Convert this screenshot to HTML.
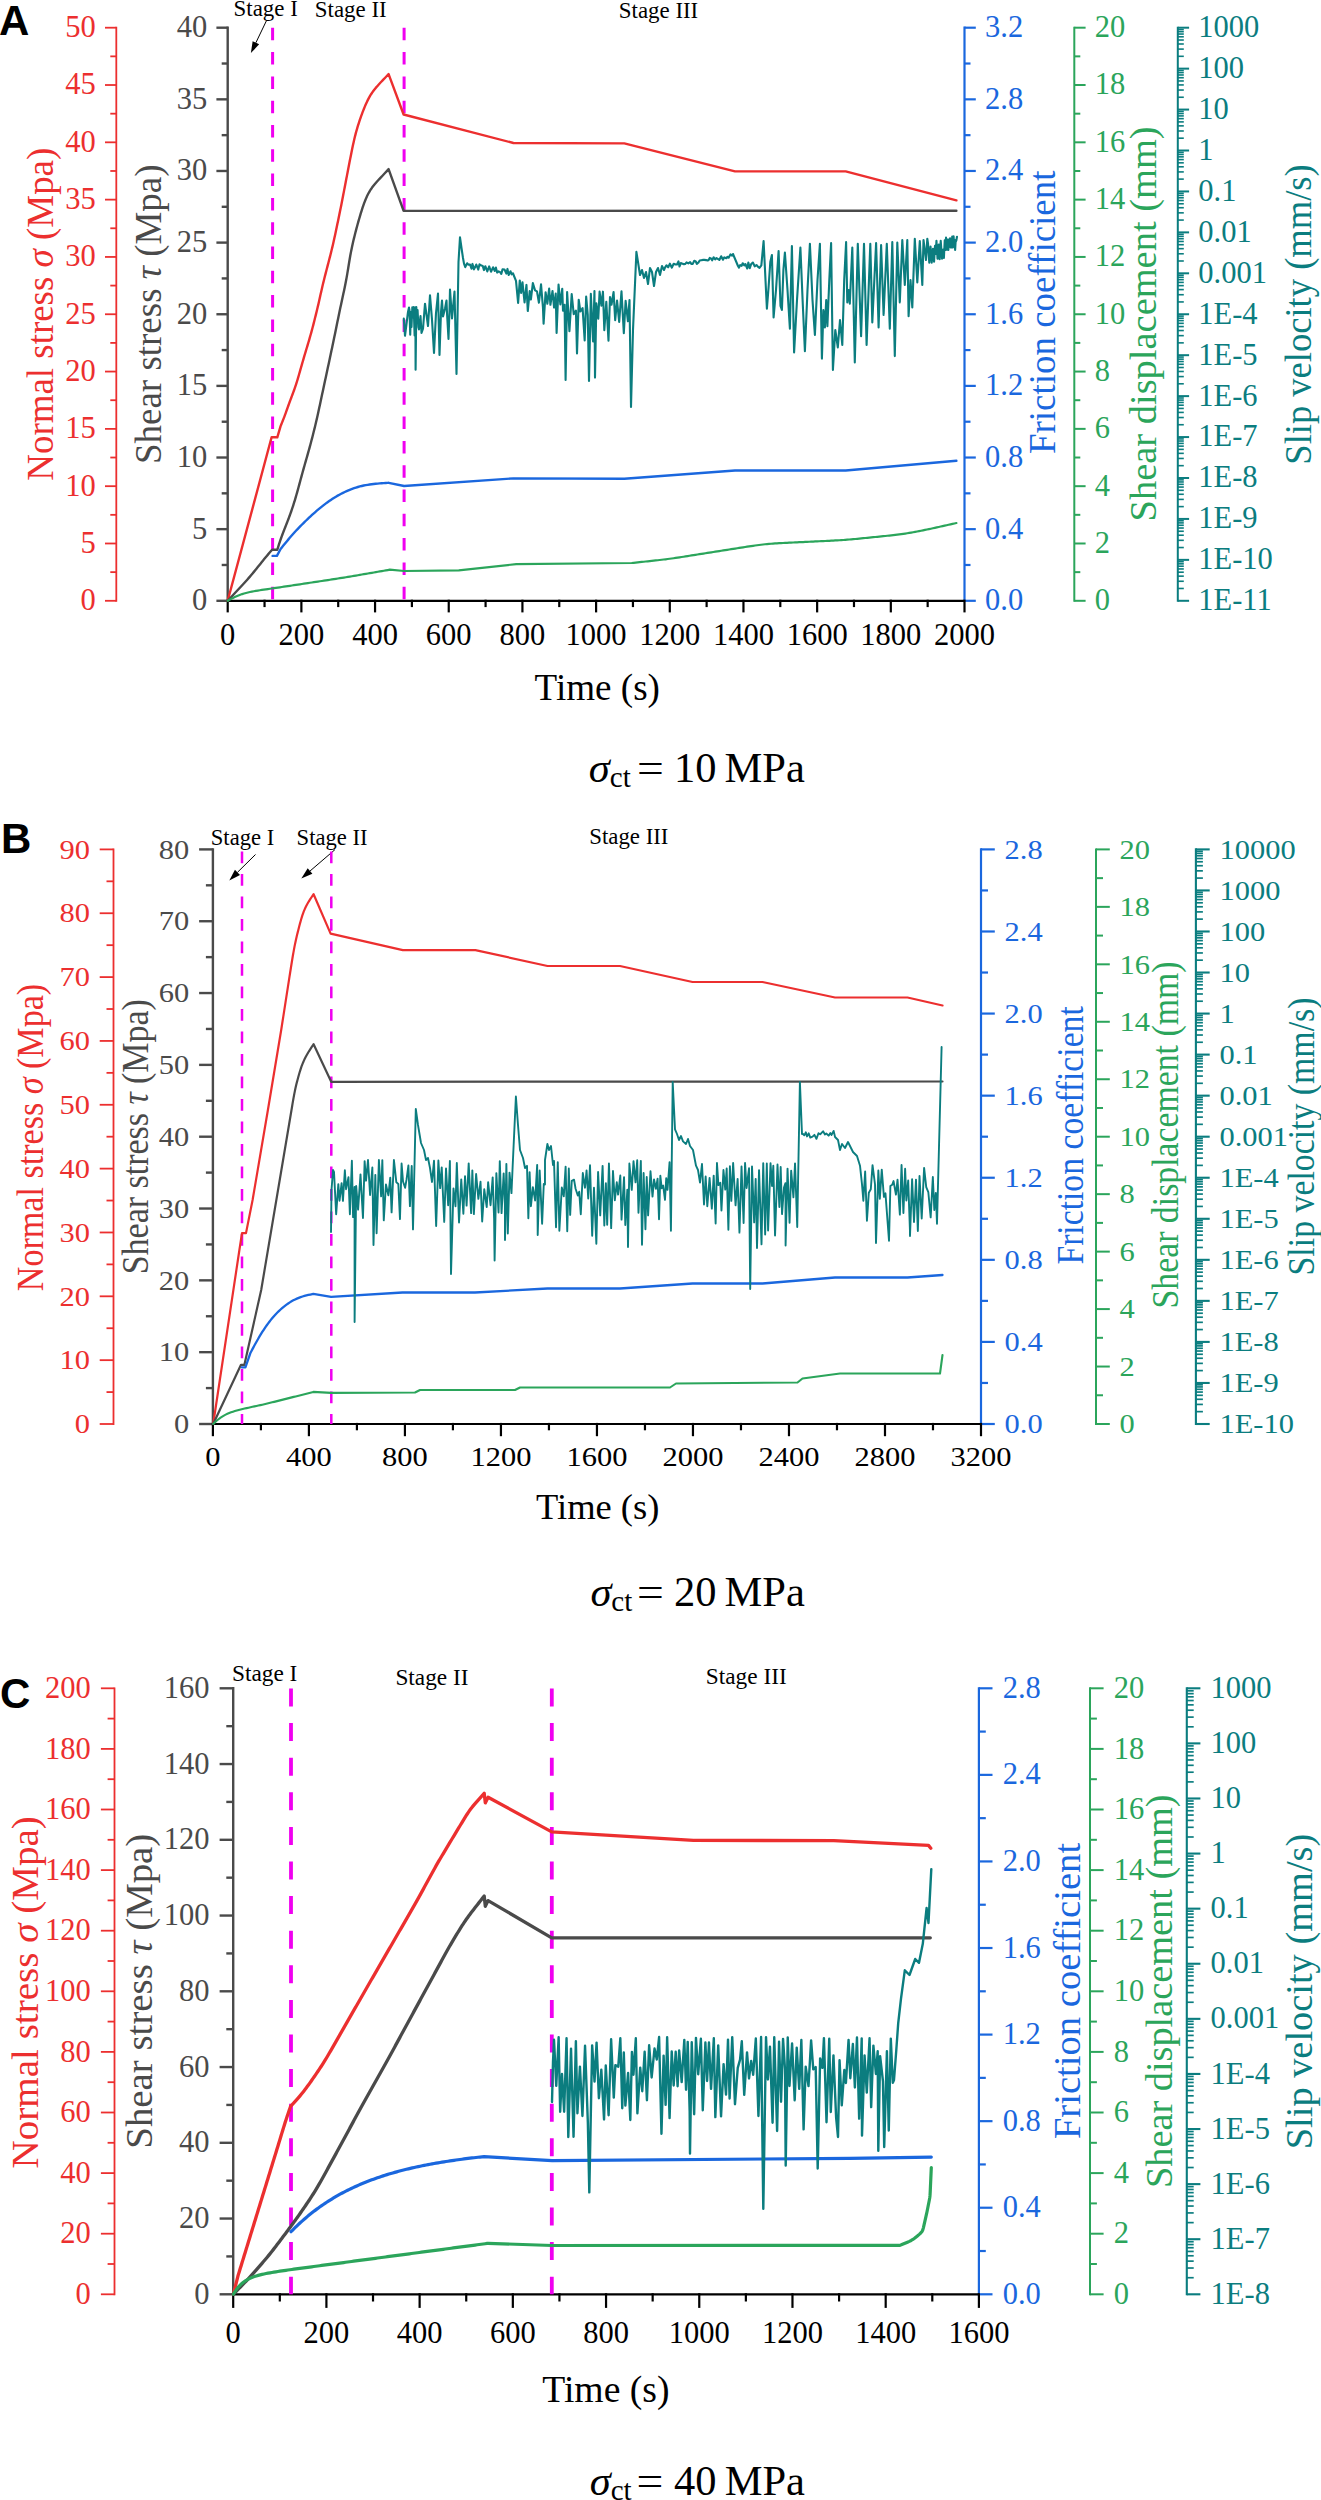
<!DOCTYPE html>
<html><head><meta charset="utf-8"><style>
html,body{margin:0;padding:0;background:#fff;}
svg{display:block;font-family:"Liberation Serif", serif;}
</style></head><body>
<svg width="1321" height="2500" viewBox="0 0 1321 2500">
<rect width="1321" height="2500" fill="#fff"/>
<text x="-1" y="34.7" fill="#000" font-size="42" font-family="Liberation Sans, sans-serif" font-weight="bold">A</text>
<line x1="116.3" y1="26.8" x2="116.3" y2="601.7" stroke="#EC2F2F" stroke-width="1.8" />
<line x1="105" y1="600.8" x2="116.3" y2="600.8" stroke="#EC2F2F" stroke-width="1.8" />
<text x="95.8" y="610.2" fill="#EC2F2F" font-size="30.5" text-anchor="end" >0</text>
<line x1="110.3" y1="572.14" x2="116.3" y2="572.14" stroke="#EC2F2F" stroke-width="1.8" />
<line x1="105" y1="543.49" x2="116.3" y2="543.49" stroke="#EC2F2F" stroke-width="1.8" />
<text x="95.8" y="552.89" fill="#EC2F2F" font-size="30.5" text-anchor="end" >5</text>
<line x1="110.3" y1="514.84" x2="116.3" y2="514.84" stroke="#EC2F2F" stroke-width="1.8" />
<line x1="105" y1="486.18" x2="116.3" y2="486.18" stroke="#EC2F2F" stroke-width="1.8" />
<text x="95.8" y="495.58" fill="#EC2F2F" font-size="30.5" text-anchor="end" >10</text>
<line x1="110.3" y1="457.52" x2="116.3" y2="457.52" stroke="#EC2F2F" stroke-width="1.8" />
<line x1="105" y1="428.87" x2="116.3" y2="428.87" stroke="#EC2F2F" stroke-width="1.8" />
<text x="95.8" y="438.27" fill="#EC2F2F" font-size="30.5" text-anchor="end" >15</text>
<line x1="110.3" y1="400.22" x2="116.3" y2="400.22" stroke="#EC2F2F" stroke-width="1.8" />
<line x1="105" y1="371.56" x2="116.3" y2="371.56" stroke="#EC2F2F" stroke-width="1.8" />
<text x="95.8" y="380.96" fill="#EC2F2F" font-size="30.5" text-anchor="end" >20</text>
<line x1="110.3" y1="342.9" x2="116.3" y2="342.9" stroke="#EC2F2F" stroke-width="1.8" />
<line x1="105" y1="314.25" x2="116.3" y2="314.25" stroke="#EC2F2F" stroke-width="1.8" />
<text x="95.8" y="323.65" fill="#EC2F2F" font-size="30.5" text-anchor="end" >25</text>
<line x1="110.3" y1="285.59" x2="116.3" y2="285.59" stroke="#EC2F2F" stroke-width="1.8" />
<line x1="105" y1="256.94" x2="116.3" y2="256.94" stroke="#EC2F2F" stroke-width="1.8" />
<text x="95.8" y="266.34" fill="#EC2F2F" font-size="30.5" text-anchor="end" >30</text>
<line x1="110.3" y1="228.29" x2="116.3" y2="228.29" stroke="#EC2F2F" stroke-width="1.8" />
<line x1="105" y1="199.63" x2="116.3" y2="199.63" stroke="#EC2F2F" stroke-width="1.8" />
<text x="95.8" y="209.03" fill="#EC2F2F" font-size="30.5" text-anchor="end" >35</text>
<line x1="110.3" y1="170.98" x2="116.3" y2="170.98" stroke="#EC2F2F" stroke-width="1.8" />
<line x1="105" y1="142.32" x2="116.3" y2="142.32" stroke="#EC2F2F" stroke-width="1.8" />
<text x="95.8" y="151.72" fill="#EC2F2F" font-size="30.5" text-anchor="end" >40</text>
<line x1="110.3" y1="113.67" x2="116.3" y2="113.67" stroke="#EC2F2F" stroke-width="1.8" />
<line x1="105" y1="85.01" x2="116.3" y2="85.01" stroke="#EC2F2F" stroke-width="1.8" />
<text x="95.8" y="94.41" fill="#EC2F2F" font-size="30.5" text-anchor="end" >45</text>
<line x1="110.3" y1="56.36" x2="116.3" y2="56.36" stroke="#EC2F2F" stroke-width="1.8" />
<line x1="105" y1="27.7" x2="116.3" y2="27.7" stroke="#EC2F2F" stroke-width="1.8" />
<text x="95.8" y="37.1" fill="#EC2F2F" font-size="30.5" text-anchor="end" >50</text>
<line x1="227.7" y1="26.5" x2="227.7" y2="602" stroke="#4A4A4A" stroke-width="2.4" />
<line x1="216.4" y1="600.8" x2="227.7" y2="600.8" stroke="#4A4A4A" stroke-width="2.4" />
<text x="207.2" y="610.2" fill="#4A4A4A" font-size="30.5" text-anchor="end" >0</text>
<line x1="221.7" y1="564.98" x2="227.7" y2="564.98" stroke="#4A4A4A" stroke-width="2.4" />
<line x1="216.4" y1="529.16" x2="227.7" y2="529.16" stroke="#4A4A4A" stroke-width="2.4" />
<text x="207.2" y="538.56" fill="#4A4A4A" font-size="30.5" text-anchor="end" >5</text>
<line x1="221.7" y1="493.34" x2="227.7" y2="493.34" stroke="#4A4A4A" stroke-width="2.4" />
<line x1="216.4" y1="457.52" x2="227.7" y2="457.52" stroke="#4A4A4A" stroke-width="2.4" />
<text x="207.2" y="466.92" fill="#4A4A4A" font-size="30.5" text-anchor="end" >10</text>
<line x1="221.7" y1="421.71" x2="227.7" y2="421.71" stroke="#4A4A4A" stroke-width="2.4" />
<line x1="216.4" y1="385.89" x2="227.7" y2="385.89" stroke="#4A4A4A" stroke-width="2.4" />
<text x="207.2" y="395.29" fill="#4A4A4A" font-size="30.5" text-anchor="end" >15</text>
<line x1="221.7" y1="350.07" x2="227.7" y2="350.07" stroke="#4A4A4A" stroke-width="2.4" />
<line x1="216.4" y1="314.25" x2="227.7" y2="314.25" stroke="#4A4A4A" stroke-width="2.4" />
<text x="207.2" y="323.65" fill="#4A4A4A" font-size="30.5" text-anchor="end" >20</text>
<line x1="221.7" y1="278.43" x2="227.7" y2="278.43" stroke="#4A4A4A" stroke-width="2.4" />
<line x1="216.4" y1="242.61" x2="227.7" y2="242.61" stroke="#4A4A4A" stroke-width="2.4" />
<text x="207.2" y="252.01" fill="#4A4A4A" font-size="30.5" text-anchor="end" >25</text>
<line x1="221.7" y1="206.79" x2="227.7" y2="206.79" stroke="#4A4A4A" stroke-width="2.4" />
<line x1="216.4" y1="170.98" x2="227.7" y2="170.98" stroke="#4A4A4A" stroke-width="2.4" />
<text x="207.2" y="180.38" fill="#4A4A4A" font-size="30.5" text-anchor="end" >30</text>
<line x1="221.7" y1="135.16" x2="227.7" y2="135.16" stroke="#4A4A4A" stroke-width="2.4" />
<line x1="216.4" y1="99.34" x2="227.7" y2="99.34" stroke="#4A4A4A" stroke-width="2.4" />
<text x="207.2" y="108.74" fill="#4A4A4A" font-size="30.5" text-anchor="end" >35</text>
<line x1="221.7" y1="63.52" x2="227.7" y2="63.52" stroke="#4A4A4A" stroke-width="2.4" />
<line x1="216.4" y1="27.7" x2="227.7" y2="27.7" stroke="#4A4A4A" stroke-width="2.4" />
<text x="207.2" y="37.1" fill="#4A4A4A" font-size="30.5" text-anchor="end" >40</text>
<line x1="964.5" y1="26.6" x2="964.5" y2="601.9" stroke="#1A67DE" stroke-width="2.2" />
<line x1="964.5" y1="600.8" x2="975.8" y2="600.8" stroke="#1A67DE" stroke-width="2.2" />
<text x="985" y="610.2" fill="#1A67DE" font-size="30.5" text-anchor="start" >0.0</text>
<line x1="964.5" y1="564.98" x2="970.5" y2="564.98" stroke="#1A67DE" stroke-width="2.2" />
<line x1="964.5" y1="529.16" x2="975.8" y2="529.16" stroke="#1A67DE" stroke-width="2.2" />
<text x="985" y="538.56" fill="#1A67DE" font-size="30.5" text-anchor="start" >0.4</text>
<line x1="964.5" y1="493.34" x2="970.5" y2="493.34" stroke="#1A67DE" stroke-width="2.2" />
<line x1="964.5" y1="457.52" x2="975.8" y2="457.52" stroke="#1A67DE" stroke-width="2.2" />
<text x="985" y="466.92" fill="#1A67DE" font-size="30.5" text-anchor="start" >0.8</text>
<line x1="964.5" y1="421.71" x2="970.5" y2="421.71" stroke="#1A67DE" stroke-width="2.2" />
<line x1="964.5" y1="385.89" x2="975.8" y2="385.89" stroke="#1A67DE" stroke-width="2.2" />
<text x="985" y="395.29" fill="#1A67DE" font-size="30.5" text-anchor="start" >1.2</text>
<line x1="964.5" y1="350.07" x2="970.5" y2="350.07" stroke="#1A67DE" stroke-width="2.2" />
<line x1="964.5" y1="314.25" x2="975.8" y2="314.25" stroke="#1A67DE" stroke-width="2.2" />
<text x="985" y="323.65" fill="#1A67DE" font-size="30.5" text-anchor="start" >1.6</text>
<line x1="964.5" y1="278.43" x2="970.5" y2="278.43" stroke="#1A67DE" stroke-width="2.2" />
<line x1="964.5" y1="242.61" x2="975.8" y2="242.61" stroke="#1A67DE" stroke-width="2.2" />
<text x="985" y="252.01" fill="#1A67DE" font-size="30.5" text-anchor="start" >2.0</text>
<line x1="964.5" y1="206.79" x2="970.5" y2="206.79" stroke="#1A67DE" stroke-width="2.2" />
<line x1="964.5" y1="170.97" x2="975.8" y2="170.97" stroke="#1A67DE" stroke-width="2.2" />
<text x="985" y="180.37" fill="#1A67DE" font-size="30.5" text-anchor="start" >2.4</text>
<line x1="964.5" y1="135.16" x2="970.5" y2="135.16" stroke="#1A67DE" stroke-width="2.2" />
<line x1="964.5" y1="99.34" x2="975.8" y2="99.34" stroke="#1A67DE" stroke-width="2.2" />
<text x="985" y="108.74" fill="#1A67DE" font-size="30.5" text-anchor="start" >2.8</text>
<line x1="964.5" y1="63.52" x2="970.5" y2="63.52" stroke="#1A67DE" stroke-width="2.2" />
<line x1="964.5" y1="27.7" x2="975.8" y2="27.7" stroke="#1A67DE" stroke-width="2.2" />
<text x="985" y="37.1" fill="#1A67DE" font-size="30.5" text-anchor="start" >3.2</text>
<line x1="1074.3" y1="26.7" x2="1074.3" y2="601.8" stroke="#2BA55B" stroke-width="2" />
<line x1="1074.3" y1="600.8" x2="1085.6" y2="600.8" stroke="#2BA55B" stroke-width="2" />
<text x="1094.8" y="610.2" fill="#2BA55B" font-size="30.5" text-anchor="start" >0</text>
<line x1="1074.3" y1="572.14" x2="1080.3" y2="572.14" stroke="#2BA55B" stroke-width="2" />
<line x1="1074.3" y1="543.49" x2="1085.6" y2="543.49" stroke="#2BA55B" stroke-width="2" />
<text x="1094.8" y="552.89" fill="#2BA55B" font-size="30.5" text-anchor="start" >2</text>
<line x1="1074.3" y1="514.83" x2="1080.3" y2="514.83" stroke="#2BA55B" stroke-width="2" />
<line x1="1074.3" y1="486.18" x2="1085.6" y2="486.18" stroke="#2BA55B" stroke-width="2" />
<text x="1094.8" y="495.58" fill="#2BA55B" font-size="30.5" text-anchor="start" >4</text>
<line x1="1074.3" y1="457.52" x2="1080.3" y2="457.52" stroke="#2BA55B" stroke-width="2" />
<line x1="1074.3" y1="428.87" x2="1085.6" y2="428.87" stroke="#2BA55B" stroke-width="2" />
<text x="1094.8" y="438.27" fill="#2BA55B" font-size="30.5" text-anchor="start" >6</text>
<line x1="1074.3" y1="400.21" x2="1080.3" y2="400.21" stroke="#2BA55B" stroke-width="2" />
<line x1="1074.3" y1="371.56" x2="1085.6" y2="371.56" stroke="#2BA55B" stroke-width="2" />
<text x="1094.8" y="380.96" fill="#2BA55B" font-size="30.5" text-anchor="start" >8</text>
<line x1="1074.3" y1="342.9" x2="1080.3" y2="342.9" stroke="#2BA55B" stroke-width="2" />
<line x1="1074.3" y1="314.25" x2="1085.6" y2="314.25" stroke="#2BA55B" stroke-width="2" />
<text x="1094.8" y="323.65" fill="#2BA55B" font-size="30.5" text-anchor="start" >10</text>
<line x1="1074.3" y1="285.6" x2="1080.3" y2="285.6" stroke="#2BA55B" stroke-width="2" />
<line x1="1074.3" y1="256.94" x2="1085.6" y2="256.94" stroke="#2BA55B" stroke-width="2" />
<text x="1094.8" y="266.34" fill="#2BA55B" font-size="30.5" text-anchor="start" >12</text>
<line x1="1074.3" y1="228.28" x2="1080.3" y2="228.28" stroke="#2BA55B" stroke-width="2" />
<line x1="1074.3" y1="199.63" x2="1085.6" y2="199.63" stroke="#2BA55B" stroke-width="2" />
<text x="1094.8" y="209.03" fill="#2BA55B" font-size="30.5" text-anchor="start" >14</text>
<line x1="1074.3" y1="170.98" x2="1080.3" y2="170.98" stroke="#2BA55B" stroke-width="2" />
<line x1="1074.3" y1="142.32" x2="1085.6" y2="142.32" stroke="#2BA55B" stroke-width="2" />
<text x="1094.8" y="151.72" fill="#2BA55B" font-size="30.5" text-anchor="start" >16</text>
<line x1="1074.3" y1="113.67" x2="1080.3" y2="113.67" stroke="#2BA55B" stroke-width="2" />
<line x1="1074.3" y1="85.01" x2="1085.6" y2="85.01" stroke="#2BA55B" stroke-width="2" />
<text x="1094.8" y="94.41" fill="#2BA55B" font-size="30.5" text-anchor="start" >18</text>
<line x1="1074.3" y1="56.36" x2="1080.3" y2="56.36" stroke="#2BA55B" stroke-width="2" />
<line x1="1074.3" y1="27.7" x2="1085.6" y2="27.7" stroke="#2BA55B" stroke-width="2" />
<text x="1094.8" y="37.1" fill="#2BA55B" font-size="30.5" text-anchor="start" >20</text>
<line x1="1177.8" y1="26.7" x2="1177.8" y2="601.8" stroke="#0B7D7F" stroke-width="2" />
<line x1="1177.8" y1="600.8" x2="1189.1" y2="600.8" stroke="#0B7D7F" stroke-width="2" />
<text x="1198.3" y="610.2" fill="#0B7D7F" font-size="30.5" text-anchor="start" >1E-11</text>
<line x1="1177.8" y1="588.48" x2="1183.8" y2="588.48" stroke="#0B7D7F" stroke-width="1.6" />
<line x1="1177.8" y1="581.27" x2="1183.8" y2="581.27" stroke="#0B7D7F" stroke-width="1.6" />
<line x1="1177.8" y1="576.15" x2="1183.8" y2="576.15" stroke="#0B7D7F" stroke-width="1.6" />
<line x1="1177.8" y1="572.19" x2="1183.8" y2="572.19" stroke="#0B7D7F" stroke-width="1.6" />
<line x1="1177.8" y1="568.95" x2="1183.8" y2="568.95" stroke="#0B7D7F" stroke-width="1.6" />
<line x1="1177.8" y1="566.21" x2="1183.8" y2="566.21" stroke="#0B7D7F" stroke-width="1.6" />
<line x1="1177.8" y1="563.83" x2="1183.8" y2="563.83" stroke="#0B7D7F" stroke-width="1.6" />
<line x1="1177.8" y1="561.74" x2="1183.8" y2="561.74" stroke="#0B7D7F" stroke-width="1.6" />
<line x1="1177.8" y1="559.86" x2="1189.1" y2="559.86" stroke="#0B7D7F" stroke-width="2" />
<text x="1198.3" y="569.26" fill="#0B7D7F" font-size="30.5" text-anchor="start" >1E-10</text>
<line x1="1177.8" y1="547.54" x2="1183.8" y2="547.54" stroke="#0B7D7F" stroke-width="1.6" />
<line x1="1177.8" y1="540.33" x2="1183.8" y2="540.33" stroke="#0B7D7F" stroke-width="1.6" />
<line x1="1177.8" y1="535.22" x2="1183.8" y2="535.22" stroke="#0B7D7F" stroke-width="1.6" />
<line x1="1177.8" y1="531.25" x2="1183.8" y2="531.25" stroke="#0B7D7F" stroke-width="1.6" />
<line x1="1177.8" y1="528.01" x2="1183.8" y2="528.01" stroke="#0B7D7F" stroke-width="1.6" />
<line x1="1177.8" y1="525.27" x2="1183.8" y2="525.27" stroke="#0B7D7F" stroke-width="1.6" />
<line x1="1177.8" y1="522.9" x2="1183.8" y2="522.9" stroke="#0B7D7F" stroke-width="1.6" />
<line x1="1177.8" y1="520.8" x2="1183.8" y2="520.8" stroke="#0B7D7F" stroke-width="1.6" />
<line x1="1177.8" y1="518.93" x2="1189.1" y2="518.93" stroke="#0B7D7F" stroke-width="2" />
<text x="1198.3" y="528.33" fill="#0B7D7F" font-size="30.5" text-anchor="start" >1E-9</text>
<line x1="1177.8" y1="506.61" x2="1183.8" y2="506.61" stroke="#0B7D7F" stroke-width="1.6" />
<line x1="1177.8" y1="499.4" x2="1183.8" y2="499.4" stroke="#0B7D7F" stroke-width="1.6" />
<line x1="1177.8" y1="494.28" x2="1183.8" y2="494.28" stroke="#0B7D7F" stroke-width="1.6" />
<line x1="1177.8" y1="490.32" x2="1183.8" y2="490.32" stroke="#0B7D7F" stroke-width="1.6" />
<line x1="1177.8" y1="487.07" x2="1183.8" y2="487.07" stroke="#0B7D7F" stroke-width="1.6" />
<line x1="1177.8" y1="484.33" x2="1183.8" y2="484.33" stroke="#0B7D7F" stroke-width="1.6" />
<line x1="1177.8" y1="481.96" x2="1183.8" y2="481.96" stroke="#0B7D7F" stroke-width="1.6" />
<line x1="1177.8" y1="479.87" x2="1183.8" y2="479.87" stroke="#0B7D7F" stroke-width="1.6" />
<line x1="1177.8" y1="477.99" x2="1189.1" y2="477.99" stroke="#0B7D7F" stroke-width="2" />
<text x="1198.3" y="487.39" fill="#0B7D7F" font-size="30.5" text-anchor="start" >1E-8</text>
<line x1="1177.8" y1="465.67" x2="1183.8" y2="465.67" stroke="#0B7D7F" stroke-width="1.6" />
<line x1="1177.8" y1="458.46" x2="1183.8" y2="458.46" stroke="#0B7D7F" stroke-width="1.6" />
<line x1="1177.8" y1="453.35" x2="1183.8" y2="453.35" stroke="#0B7D7F" stroke-width="1.6" />
<line x1="1177.8" y1="449.38" x2="1183.8" y2="449.38" stroke="#0B7D7F" stroke-width="1.6" />
<line x1="1177.8" y1="446.14" x2="1183.8" y2="446.14" stroke="#0B7D7F" stroke-width="1.6" />
<line x1="1177.8" y1="443.4" x2="1183.8" y2="443.4" stroke="#0B7D7F" stroke-width="1.6" />
<line x1="1177.8" y1="441.02" x2="1183.8" y2="441.02" stroke="#0B7D7F" stroke-width="1.6" />
<line x1="1177.8" y1="438.93" x2="1183.8" y2="438.93" stroke="#0B7D7F" stroke-width="1.6" />
<line x1="1177.8" y1="437.06" x2="1189.1" y2="437.06" stroke="#0B7D7F" stroke-width="2" />
<text x="1198.3" y="446.46" fill="#0B7D7F" font-size="30.5" text-anchor="start" >1E-7</text>
<line x1="1177.8" y1="424.73" x2="1183.8" y2="424.73" stroke="#0B7D7F" stroke-width="1.6" />
<line x1="1177.8" y1="417.53" x2="1183.8" y2="417.53" stroke="#0B7D7F" stroke-width="1.6" />
<line x1="1177.8" y1="412.41" x2="1183.8" y2="412.41" stroke="#0B7D7F" stroke-width="1.6" />
<line x1="1177.8" y1="408.44" x2="1183.8" y2="408.44" stroke="#0B7D7F" stroke-width="1.6" />
<line x1="1177.8" y1="405.2" x2="1183.8" y2="405.2" stroke="#0B7D7F" stroke-width="1.6" />
<line x1="1177.8" y1="402.46" x2="1183.8" y2="402.46" stroke="#0B7D7F" stroke-width="1.6" />
<line x1="1177.8" y1="400.09" x2="1183.8" y2="400.09" stroke="#0B7D7F" stroke-width="1.6" />
<line x1="1177.8" y1="397.99" x2="1183.8" y2="397.99" stroke="#0B7D7F" stroke-width="1.6" />
<line x1="1177.8" y1="396.12" x2="1189.1" y2="396.12" stroke="#0B7D7F" stroke-width="2" />
<text x="1198.3" y="405.52" fill="#0B7D7F" font-size="30.5" text-anchor="start" >1E-6</text>
<line x1="1177.8" y1="383.8" x2="1183.8" y2="383.8" stroke="#0B7D7F" stroke-width="1.6" />
<line x1="1177.8" y1="376.59" x2="1183.8" y2="376.59" stroke="#0B7D7F" stroke-width="1.6" />
<line x1="1177.8" y1="371.48" x2="1183.8" y2="371.48" stroke="#0B7D7F" stroke-width="1.6" />
<line x1="1177.8" y1="367.51" x2="1183.8" y2="367.51" stroke="#0B7D7F" stroke-width="1.6" />
<line x1="1177.8" y1="364.27" x2="1183.8" y2="364.27" stroke="#0B7D7F" stroke-width="1.6" />
<line x1="1177.8" y1="361.53" x2="1183.8" y2="361.53" stroke="#0B7D7F" stroke-width="1.6" />
<line x1="1177.8" y1="359.15" x2="1183.8" y2="359.15" stroke="#0B7D7F" stroke-width="1.6" />
<line x1="1177.8" y1="357.06" x2="1183.8" y2="357.06" stroke="#0B7D7F" stroke-width="1.6" />
<line x1="1177.8" y1="355.19" x2="1189.1" y2="355.19" stroke="#0B7D7F" stroke-width="2" />
<text x="1198.3" y="364.59" fill="#0B7D7F" font-size="30.5" text-anchor="start" >1E-5</text>
<line x1="1177.8" y1="342.86" x2="1183.8" y2="342.86" stroke="#0B7D7F" stroke-width="1.6" />
<line x1="1177.8" y1="335.65" x2="1183.8" y2="335.65" stroke="#0B7D7F" stroke-width="1.6" />
<line x1="1177.8" y1="330.54" x2="1183.8" y2="330.54" stroke="#0B7D7F" stroke-width="1.6" />
<line x1="1177.8" y1="326.57" x2="1183.8" y2="326.57" stroke="#0B7D7F" stroke-width="1.6" />
<line x1="1177.8" y1="323.33" x2="1183.8" y2="323.33" stroke="#0B7D7F" stroke-width="1.6" />
<line x1="1177.8" y1="320.59" x2="1183.8" y2="320.59" stroke="#0B7D7F" stroke-width="1.6" />
<line x1="1177.8" y1="318.22" x2="1183.8" y2="318.22" stroke="#0B7D7F" stroke-width="1.6" />
<line x1="1177.8" y1="316.12" x2="1183.8" y2="316.12" stroke="#0B7D7F" stroke-width="1.6" />
<line x1="1177.8" y1="314.25" x2="1189.1" y2="314.25" stroke="#0B7D7F" stroke-width="2" />
<text x="1198.3" y="323.65" fill="#0B7D7F" font-size="30.5" text-anchor="start" >1E-4</text>
<line x1="1177.8" y1="301.93" x2="1183.8" y2="301.93" stroke="#0B7D7F" stroke-width="1.6" />
<line x1="1177.8" y1="294.72" x2="1183.8" y2="294.72" stroke="#0B7D7F" stroke-width="1.6" />
<line x1="1177.8" y1="289.6" x2="1183.8" y2="289.6" stroke="#0B7D7F" stroke-width="1.6" />
<line x1="1177.8" y1="285.64" x2="1183.8" y2="285.64" stroke="#0B7D7F" stroke-width="1.6" />
<line x1="1177.8" y1="282.4" x2="1183.8" y2="282.4" stroke="#0B7D7F" stroke-width="1.6" />
<line x1="1177.8" y1="279.66" x2="1183.8" y2="279.66" stroke="#0B7D7F" stroke-width="1.6" />
<line x1="1177.8" y1="277.28" x2="1183.8" y2="277.28" stroke="#0B7D7F" stroke-width="1.6" />
<line x1="1177.8" y1="275.19" x2="1183.8" y2="275.19" stroke="#0B7D7F" stroke-width="1.6" />
<line x1="1177.8" y1="273.31" x2="1189.1" y2="273.31" stroke="#0B7D7F" stroke-width="2" />
<text x="1198.3" y="282.71" fill="#0B7D7F" font-size="30.5" text-anchor="start" >0.001</text>
<line x1="1177.8" y1="260.99" x2="1183.8" y2="260.99" stroke="#0B7D7F" stroke-width="1.6" />
<line x1="1177.8" y1="253.78" x2="1183.8" y2="253.78" stroke="#0B7D7F" stroke-width="1.6" />
<line x1="1177.8" y1="248.67" x2="1183.8" y2="248.67" stroke="#0B7D7F" stroke-width="1.6" />
<line x1="1177.8" y1="244.7" x2="1183.8" y2="244.7" stroke="#0B7D7F" stroke-width="1.6" />
<line x1="1177.8" y1="241.46" x2="1183.8" y2="241.46" stroke="#0B7D7F" stroke-width="1.6" />
<line x1="1177.8" y1="238.72" x2="1183.8" y2="238.72" stroke="#0B7D7F" stroke-width="1.6" />
<line x1="1177.8" y1="236.35" x2="1183.8" y2="236.35" stroke="#0B7D7F" stroke-width="1.6" />
<line x1="1177.8" y1="234.25" x2="1183.8" y2="234.25" stroke="#0B7D7F" stroke-width="1.6" />
<line x1="1177.8" y1="232.38" x2="1189.1" y2="232.38" stroke="#0B7D7F" stroke-width="2" />
<text x="1198.3" y="241.78" fill="#0B7D7F" font-size="30.5" text-anchor="start" >0.01</text>
<line x1="1177.8" y1="220.06" x2="1183.8" y2="220.06" stroke="#0B7D7F" stroke-width="1.6" />
<line x1="1177.8" y1="212.85" x2="1183.8" y2="212.85" stroke="#0B7D7F" stroke-width="1.6" />
<line x1="1177.8" y1="207.73" x2="1183.8" y2="207.73" stroke="#0B7D7F" stroke-width="1.6" />
<line x1="1177.8" y1="203.77" x2="1183.8" y2="203.77" stroke="#0B7D7F" stroke-width="1.6" />
<line x1="1177.8" y1="200.52" x2="1183.8" y2="200.52" stroke="#0B7D7F" stroke-width="1.6" />
<line x1="1177.8" y1="197.78" x2="1183.8" y2="197.78" stroke="#0B7D7F" stroke-width="1.6" />
<line x1="1177.8" y1="195.41" x2="1183.8" y2="195.41" stroke="#0B7D7F" stroke-width="1.6" />
<line x1="1177.8" y1="193.32" x2="1183.8" y2="193.32" stroke="#0B7D7F" stroke-width="1.6" />
<line x1="1177.8" y1="191.44" x2="1189.1" y2="191.44" stroke="#0B7D7F" stroke-width="2" />
<text x="1198.3" y="200.84" fill="#0B7D7F" font-size="30.5" text-anchor="start" >0.1</text>
<line x1="1177.8" y1="179.12" x2="1183.8" y2="179.12" stroke="#0B7D7F" stroke-width="1.6" />
<line x1="1177.8" y1="171.91" x2="1183.8" y2="171.91" stroke="#0B7D7F" stroke-width="1.6" />
<line x1="1177.8" y1="166.8" x2="1183.8" y2="166.8" stroke="#0B7D7F" stroke-width="1.6" />
<line x1="1177.8" y1="162.83" x2="1183.8" y2="162.83" stroke="#0B7D7F" stroke-width="1.6" />
<line x1="1177.8" y1="159.59" x2="1183.8" y2="159.59" stroke="#0B7D7F" stroke-width="1.6" />
<line x1="1177.8" y1="156.85" x2="1183.8" y2="156.85" stroke="#0B7D7F" stroke-width="1.6" />
<line x1="1177.8" y1="154.47" x2="1183.8" y2="154.47" stroke="#0B7D7F" stroke-width="1.6" />
<line x1="1177.8" y1="152.38" x2="1183.8" y2="152.38" stroke="#0B7D7F" stroke-width="1.6" />
<line x1="1177.8" y1="150.51" x2="1189.1" y2="150.51" stroke="#0B7D7F" stroke-width="2" />
<text x="1198.3" y="159.91" fill="#0B7D7F" font-size="30.5" text-anchor="start" >1</text>
<line x1="1177.8" y1="138.18" x2="1183.8" y2="138.18" stroke="#0B7D7F" stroke-width="1.6" />
<line x1="1177.8" y1="130.98" x2="1183.8" y2="130.98" stroke="#0B7D7F" stroke-width="1.6" />
<line x1="1177.8" y1="125.86" x2="1183.8" y2="125.86" stroke="#0B7D7F" stroke-width="1.6" />
<line x1="1177.8" y1="121.89" x2="1183.8" y2="121.89" stroke="#0B7D7F" stroke-width="1.6" />
<line x1="1177.8" y1="118.65" x2="1183.8" y2="118.65" stroke="#0B7D7F" stroke-width="1.6" />
<line x1="1177.8" y1="115.91" x2="1183.8" y2="115.91" stroke="#0B7D7F" stroke-width="1.6" />
<line x1="1177.8" y1="113.54" x2="1183.8" y2="113.54" stroke="#0B7D7F" stroke-width="1.6" />
<line x1="1177.8" y1="111.44" x2="1183.8" y2="111.44" stroke="#0B7D7F" stroke-width="1.6" />
<line x1="1177.8" y1="109.57" x2="1189.1" y2="109.57" stroke="#0B7D7F" stroke-width="2" />
<text x="1198.3" y="118.97" fill="#0B7D7F" font-size="30.5" text-anchor="start" >10</text>
<line x1="1177.8" y1="97.25" x2="1183.8" y2="97.25" stroke="#0B7D7F" stroke-width="1.6" />
<line x1="1177.8" y1="90.04" x2="1183.8" y2="90.04" stroke="#0B7D7F" stroke-width="1.6" />
<line x1="1177.8" y1="84.93" x2="1183.8" y2="84.93" stroke="#0B7D7F" stroke-width="1.6" />
<line x1="1177.8" y1="80.96" x2="1183.8" y2="80.96" stroke="#0B7D7F" stroke-width="1.6" />
<line x1="1177.8" y1="77.72" x2="1183.8" y2="77.72" stroke="#0B7D7F" stroke-width="1.6" />
<line x1="1177.8" y1="74.98" x2="1183.8" y2="74.98" stroke="#0B7D7F" stroke-width="1.6" />
<line x1="1177.8" y1="72.6" x2="1183.8" y2="72.6" stroke="#0B7D7F" stroke-width="1.6" />
<line x1="1177.8" y1="70.51" x2="1183.8" y2="70.51" stroke="#0B7D7F" stroke-width="1.6" />
<line x1="1177.8" y1="68.64" x2="1189.1" y2="68.64" stroke="#0B7D7F" stroke-width="2" />
<text x="1198.3" y="78.04" fill="#0B7D7F" font-size="30.5" text-anchor="start" >100</text>
<line x1="1177.8" y1="56.31" x2="1183.8" y2="56.31" stroke="#0B7D7F" stroke-width="1.6" />
<line x1="1177.8" y1="49.1" x2="1183.8" y2="49.1" stroke="#0B7D7F" stroke-width="1.6" />
<line x1="1177.8" y1="43.99" x2="1183.8" y2="43.99" stroke="#0B7D7F" stroke-width="1.6" />
<line x1="1177.8" y1="40.02" x2="1183.8" y2="40.02" stroke="#0B7D7F" stroke-width="1.6" />
<line x1="1177.8" y1="36.78" x2="1183.8" y2="36.78" stroke="#0B7D7F" stroke-width="1.6" />
<line x1="1177.8" y1="34.04" x2="1183.8" y2="34.04" stroke="#0B7D7F" stroke-width="1.6" />
<line x1="1177.8" y1="31.67" x2="1183.8" y2="31.67" stroke="#0B7D7F" stroke-width="1.6" />
<line x1="1177.8" y1="29.57" x2="1183.8" y2="29.57" stroke="#0B7D7F" stroke-width="1.6" />
<line x1="1177.8" y1="27.7" x2="1189.1" y2="27.7" stroke="#0B7D7F" stroke-width="2" />
<text x="1198.3" y="37.1" fill="#0B7D7F" font-size="30.5" text-anchor="start" >1000</text>
<line x1="227.7" y1="600.8" x2="964.5" y2="600.8" stroke="#000" stroke-width="2.2" />
<line x1="227.7" y1="599.7" x2="227.7" y2="612.4" stroke="#000" stroke-width="2.2" />
<text x="227.7" y="644.8" fill="#000" font-size="30.5" text-anchor="middle" >0</text>
<line x1="264.54" y1="599.7" x2="264.54" y2="607.1" stroke="#000" stroke-width="2.2" />
<line x1="301.38" y1="599.7" x2="301.38" y2="612.4" stroke="#000" stroke-width="2.2" />
<text x="301.38" y="644.8" fill="#000" font-size="30.5" text-anchor="middle" >200</text>
<line x1="338.22" y1="599.7" x2="338.22" y2="607.1" stroke="#000" stroke-width="2.2" />
<line x1="375.06" y1="599.7" x2="375.06" y2="612.4" stroke="#000" stroke-width="2.2" />
<text x="375.06" y="644.8" fill="#000" font-size="30.5" text-anchor="middle" >400</text>
<line x1="411.9" y1="599.7" x2="411.9" y2="607.1" stroke="#000" stroke-width="2.2" />
<line x1="448.74" y1="599.7" x2="448.74" y2="612.4" stroke="#000" stroke-width="2.2" />
<text x="448.74" y="644.8" fill="#000" font-size="30.5" text-anchor="middle" >600</text>
<line x1="485.58" y1="599.7" x2="485.58" y2="607.1" stroke="#000" stroke-width="2.2" />
<line x1="522.42" y1="599.7" x2="522.42" y2="612.4" stroke="#000" stroke-width="2.2" />
<text x="522.42" y="644.8" fill="#000" font-size="30.5" text-anchor="middle" >800</text>
<line x1="559.26" y1="599.7" x2="559.26" y2="607.1" stroke="#000" stroke-width="2.2" />
<line x1="596.1" y1="599.7" x2="596.1" y2="612.4" stroke="#000" stroke-width="2.2" />
<text x="596.1" y="644.8" fill="#000" font-size="30.5" text-anchor="middle" >1000</text>
<line x1="632.94" y1="599.7" x2="632.94" y2="607.1" stroke="#000" stroke-width="2.2" />
<line x1="669.78" y1="599.7" x2="669.78" y2="612.4" stroke="#000" stroke-width="2.2" />
<text x="669.78" y="644.8" fill="#000" font-size="30.5" text-anchor="middle" >1200</text>
<line x1="706.62" y1="599.7" x2="706.62" y2="607.1" stroke="#000" stroke-width="2.2" />
<line x1="743.46" y1="599.7" x2="743.46" y2="612.4" stroke="#000" stroke-width="2.2" />
<text x="743.46" y="644.8" fill="#000" font-size="30.5" text-anchor="middle" >1400</text>
<line x1="780.3" y1="599.7" x2="780.3" y2="607.1" stroke="#000" stroke-width="2.2" />
<line x1="817.14" y1="599.7" x2="817.14" y2="612.4" stroke="#000" stroke-width="2.2" />
<text x="817.14" y="644.8" fill="#000" font-size="30.5" text-anchor="middle" >1600</text>
<line x1="853.98" y1="599.7" x2="853.98" y2="607.1" stroke="#000" stroke-width="2.2" />
<line x1="890.82" y1="599.7" x2="890.82" y2="612.4" stroke="#000" stroke-width="2.2" />
<text x="890.82" y="644.8" fill="#000" font-size="30.5" text-anchor="middle" >1800</text>
<line x1="927.66" y1="599.7" x2="927.66" y2="607.1" stroke="#000" stroke-width="2.2" />
<line x1="964.5" y1="599.7" x2="964.5" y2="612.4" stroke="#000" stroke-width="2.2" />
<text x="964.5" y="644.8" fill="#000" font-size="30.5" text-anchor="middle" >2000</text>
<text transform="translate(53,314.2) rotate(-90)" fill="#EC2F2F" font-size="38" text-anchor="middle" textLength="333" lengthAdjust="spacingAndGlyphs" >Normal stress <tspan font-style="italic">σ</tspan> (Mpa)</text>
<text transform="translate(161.2,314.2) rotate(-90)" fill="#4A4A4A" font-size="38" text-anchor="middle" textLength="299.5" lengthAdjust="spacingAndGlyphs" >Shear stress <tspan font-style="italic">τ</tspan> (Mpa)</text>
<text transform="translate(1054.7,312.3) rotate(-90)" fill="#1A67DE" font-size="38" text-anchor="middle" textLength="283.5" lengthAdjust="spacingAndGlyphs" >Friction coefficient</text>
<text transform="translate(1155.5,323.9) rotate(-90)" fill="#2BA55B" font-size="38" text-anchor="middle" textLength="395" lengthAdjust="spacingAndGlyphs" >Shear displacement (mm)</text>
<text transform="translate(1311,314.5) rotate(-90)" fill="#0B7D7F" font-size="38" text-anchor="middle" textLength="300.4" lengthAdjust="spacingAndGlyphs" >Slip velocity (mm/s)</text>
<text x="534.6" y="700" fill="#000" font-size="37.1" text-anchor="start" >Time (s)</text>
<text x="588.8" y="782.2" fill="#000" font-size="42.5"><tspan font-style="italic">σ</tspan><tspan font-size="29" dy="4.8">ct</tspan></text>
<text transform="translate(637,782.2) scale(1.12,1)" fill="#000" font-size="42.5">=</text>
<text x="674" y="782.2" fill="#000" font-size="42.5">10</text>
<text x="724.5" y="782.2" fill="#000" font-size="42.5">MPa</text>
<text x="233.6" y="15.7" fill="#000" font-size="22.9" text-anchor="start" >Stage I</text>
<text x="314.8" y="17" fill="#000" font-size="22.9" text-anchor="start" >Stage II</text>
<text x="618.8" y="17.7" fill="#000" font-size="22.9" text-anchor="start" >Stage III</text>
<line x1="266.6" y1="20.4" x2="255.88" y2="42.73" stroke="#000" stroke-width="1.0" />
<polygon points="250.9,53.1 252.63,41.17 259.12,44.29" fill="#000"/>
<line x1="272.6" y1="27.8" x2="272.6" y2="600.8" stroke="#F000F0" stroke-width="3" stroke-dasharray="12.5 11.8"/>
<line x1="404.1" y1="27.8" x2="404.1" y2="600.8" stroke="#F000F0" stroke-width="3" stroke-dasharray="12.5 11.8"/>
<polyline points="227.7,600.8 271.6,437.3 272.1,437.3 277.3,437.3 280.6,426.1 281.36,424.25 282.12,422.4 282.86,420.54 283.59,418.67 284.31,416.81 285.01,414.93 285.69,413.05 286.37,411.16 287.04,409.27 287.71,407.39 288.38,405.5 289.06,403.61 289.75,401.73 290.45,399.85 291.15,397.98 291.86,396.11 292.56,394.23 293.26,392.36 293.95,390.48 294.62,388.59 295.28,386.7 295.91,384.8 296.53,382.9 297.12,380.99 297.71,379.07 298.27,377.15 298.83,375.22 299.39,373.29 299.93,371.36 300.48,369.43 301.03,367.5 301.58,365.57 302.13,363.64 302.68,361.71 303.24,359.79 303.8,357.86 304.37,355.93 304.94,354.01 305.52,352.09 306.09,350.17 306.67,348.24 307.25,346.32 307.83,344.4 308.4,342.48 308.97,340.55 309.53,338.63 310.08,336.7 310.63,334.77 311.17,332.84 311.7,330.9 312.22,328.96 312.73,327.02 313.24,325.08 313.74,323.14 314.23,321.19 314.72,319.25 315.21,317.3 315.7,315.36 316.18,313.41 316.65,311.46 317.12,309.51 317.59,307.55 318.05,305.6 318.5,303.65 318.95,301.69 319.39,299.73 319.83,297.78 320.27,295.82 320.71,293.86 321.15,291.9 321.6,289.95 322.05,287.99 322.5,286.04 322.97,284.09 323.44,282.13 323.92,280.19 324.4,278.24 324.89,276.29 325.39,274.35 325.89,272.41 326.39,270.46 326.9,268.52 327.4,266.58 327.91,264.64 328.42,262.7 328.92,260.75 329.43,258.81 329.93,256.87 330.42,254.92 330.91,252.98 331.4,251.03 331.87,249.08 332.34,247.13 332.8,245.18 333.25,243.22 333.69,241.27 334.13,239.31 334.56,237.35 334.98,235.39 335.4,233.42 335.82,231.46 336.23,229.5 336.64,227.53 337.06,225.57 337.47,223.61 337.88,221.64 338.29,219.68 338.69,217.71 339.1,215.75 339.5,213.78 339.91,211.81 340.31,209.85 340.7,207.88 341.1,205.91 341.49,203.94 341.87,201.97 342.26,200.01 342.64,198.04 343.03,196.07 343.41,194.09 343.79,192.12 344.16,190.15 344.54,188.18 344.92,186.21 345.3,184.24 345.68,182.27 346.05,180.3 346.43,178.33 346.81,176.36 347.19,174.39 347.56,172.41 347.94,170.44 348.32,168.47 348.7,166.5 349.08,164.53 349.47,162.56 349.85,160.59 350.24,158.62 350.62,156.65 351.02,154.69 351.41,152.72 351.81,150.75 352.21,148.79 352.62,146.82 353.04,144.86 353.46,142.9 353.9,140.94 354.35,138.99 354.82,137.04 355.31,135.1 355.81,133.16 356.34,131.23 356.89,129.3 357.45,127.38 358.04,125.46 358.65,123.55 359.27,121.65 359.91,119.74 360.56,117.85 361.23,115.96 361.91,114.07 362.61,112.19 363.32,110.32 364.06,108.46 364.82,106.61 365.6,104.77 366.42,102.95 367.27,101.15 368.16,99.37 369.08,97.62 370.06,95.9 371.09,94.22 372.17,92.58 373.3,90.98 374.49,89.42 375.73,87.9 377.01,86.41 378.33,84.94 379.67,83.49 381.03,82.05 382.4,80.61 383.78,79.17 385.16,77.72 386.54,76.28 387.91,74.83 388.6,74.1 403.6,114.5 513.4,143 624.3,143.4 735,171.4 845.7,171.4 956.4,200.4" fill="none" stroke="#EC2F2F" stroke-width="2.4" stroke-linejoin="round" stroke-linecap="round" />
<polyline points="227.7,600.8 229.1,599.3 230.51,597.8 231.91,596.3 233.32,594.8 234.72,593.3 236.12,591.8 237.53,590.3 238.93,588.8 240.33,587.3 241.72,585.79 243.11,584.28 244.49,582.76 245.86,581.23 247.23,579.7 248.58,578.16 249.92,576.6 251.25,575.04 252.57,573.47 253.88,571.89 255.18,570.3 256.47,568.7 257.76,567.1 259.04,565.5 260.33,563.9 261.61,562.3 262.9,560.7 264.19,559.11 265.49,557.52 266.8,555.94 268.12,554.38 269.44,552.81 270.77,551.25 272.1,549.7 272.1,549.7 277.3,549.7 277.9,547.79 278.5,545.87 279.11,543.97 279.74,542.06 280.39,540.16 281.05,538.27 281.73,536.38 282.42,534.5 283.13,532.62 283.85,530.75 284.58,528.88 285.32,527.01 286.06,525.14 286.79,523.28 287.52,521.4 288.24,519.53 288.95,517.65 289.64,515.77 290.33,513.88 291,511.99 291.65,510.09 292.3,508.19 292.93,506.29 293.55,504.38 294.15,502.46 294.75,500.54 295.33,498.62 295.9,496.7 296.45,494.77 297,492.84 297.54,490.9 298.07,488.96 298.6,487.03 299.12,485.09 299.65,483.15 300.17,481.21 300.69,479.27 301.22,477.33 301.75,475.39 302.28,473.46 302.81,471.52 303.35,469.58 303.9,467.65 304.45,465.72 304.99,463.79 305.55,461.85 306.1,459.92 306.65,457.99 307.2,456.06 307.75,454.13 308.29,452.19 308.84,450.26 309.37,448.32 309.9,446.39 310.43,444.45 310.95,442.51 311.46,440.56 311.97,438.62 312.47,436.68 312.97,434.73 313.46,432.78 313.95,430.83 314.43,428.88 314.91,426.93 315.38,424.98 315.85,423.03 316.31,421.07 316.76,419.11 317.2,417.16 317.64,415.2 318.08,413.23 318.5,411.27 318.93,409.31 319.35,407.34 319.77,405.38 320.19,403.42 320.61,401.45 321.02,399.49 321.44,397.52 321.86,395.56 322.28,393.59 322.7,391.63 323.12,389.66 323.54,387.7 323.96,385.73 324.38,383.77 324.81,381.8 325.23,379.84 325.65,377.88 326.07,375.91 326.49,373.95 326.91,371.98 327.33,370.02 327.75,368.05 328.18,366.09 328.6,364.13 329.02,362.16 329.44,360.2 329.85,358.23 330.27,356.27 330.69,354.3 331.11,352.34 331.53,350.37 331.94,348.41 332.36,346.44 332.77,344.48 333.19,342.51 333.6,340.54 334.01,338.58 334.42,336.61 334.82,334.64 335.23,332.68 335.63,330.71 336.03,328.74 336.43,326.77 336.83,324.8 337.23,322.83 337.64,320.86 338.04,318.9 338.44,316.93 338.84,314.96 339.25,312.99 339.66,311.03 340.07,309.06 340.49,307.09 340.91,305.13 341.33,303.17 341.75,301.2 342.18,299.24 342.6,297.28 343.03,295.31 343.45,293.35 343.87,291.38 344.29,289.42 344.7,287.45 345.1,285.49 345.49,283.52 345.88,281.55 346.25,279.57 346.61,277.6 346.96,275.62 347.3,273.64 347.63,271.66 347.96,269.68 348.28,267.7 348.6,265.71 348.92,263.73 349.25,261.75 349.58,259.77 349.92,257.79 350.26,255.81 350.63,253.84 351,251.87 351.39,249.9 351.8,247.93 352.21,245.97 352.65,244.01 353.09,242.05 353.55,240.09 354.02,238.14 354.5,236.19 354.98,234.24 355.48,232.3 355.98,230.35 356.5,228.41 357.02,226.47 357.55,224.54 358.09,222.6 358.64,220.67 359.19,218.74 359.76,216.81 360.33,214.89 360.91,212.97 361.51,211.05 362.11,209.14 362.74,207.23 363.38,205.33 364.06,203.45 364.76,201.58 365.49,199.72 366.27,197.89 367.09,196.08 367.97,194.31 368.9,192.56 369.89,190.86 370.95,189.2 372.06,187.59 373.24,186.01 374.47,184.48 375.75,182.98 377.06,181.5 378.4,180.05 379.76,178.6 381.13,177.16 382.5,175.71 383.86,174.25 385.22,172.79 386.58,171.32 387.93,169.84 388.6,169.1 403.6,210.9 956.4,210.7" fill="none" stroke="#4A4A4A" stroke-width="2.4" stroke-linejoin="round" stroke-linecap="round" />
<polyline points="272.6,555.9 276.9,555.9 280.6,549 281.86,547.43 283.13,545.86 284.4,544.29 285.67,542.72 286.94,541.16 288.23,539.61 289.52,538.06 290.83,536.53 292.15,535 293.49,533.5 294.84,532 296.2,530.52 297.59,529.06 298.98,527.6 300.39,526.16 301.81,524.73 303.24,523.31 304.68,521.9 306.13,520.5 307.59,519.11 309.06,517.72 310.54,516.35 312.02,514.99 313.52,513.63 315.02,512.3 316.54,510.97 318.07,509.66 319.62,508.37 321.18,507.1 322.75,505.84 324.34,504.61 325.95,503.4 327.57,502.21 329.21,501.04 330.87,499.9 332.54,498.8 334.24,497.72 335.95,496.67 337.68,495.66 339.44,494.68 341.21,493.74 343,492.83 344.8,491.96 346.63,491.12 348.47,490.32 350.32,489.56 352.19,488.85 354.08,488.18 355.98,487.55 357.89,486.98 359.82,486.45 361.77,485.98 363.72,485.54 365.69,485.15 367.67,484.81 369.65,484.5 371.64,484.22 373.64,483.98 375.64,483.77 377.64,483.58 379.65,483.41 381.66,483.26 383.67,483.12 385.68,482.99 387.69,482.86 388.7,482.8 404.1,486 513.4,478.4 624.3,478.8 735,470.5 845.7,470.5 956.4,460.8" fill="none" stroke="#1A67DE" stroke-width="2.4" stroke-linejoin="round" stroke-linecap="round" />
<polyline points="227.7,600.8 229.45,599.83 231.2,598.87 232.97,597.94 234.76,597.06 236.57,596.22 238.41,595.45 240.27,594.74 242.16,594.08 244.07,593.49 246,592.95 247.95,592.46 249.91,592.01 251.88,591.6 253.86,591.23 255.85,590.88 257.84,590.55 259.84,590.23 261.84,589.93 263.84,589.64 265.84,589.35 267.85,589.06 269.85,588.77 271.85,588.48 273.86,588.19 275.86,587.89 277.86,587.6 279.87,587.3 281.87,587 283.87,586.7 285.87,586.4 287.87,586.1 289.88,585.8 291.88,585.5 293.88,585.2 295.88,584.89 297.88,584.59 299.88,584.29 301.89,583.99 303.89,583.68 305.89,583.38 307.89,583.08 309.89,582.78 311.89,582.48 313.9,582.17 315.9,581.87 317.9,581.57 319.9,581.27 321.9,580.97 323.9,580.66 325.91,580.36 327.91,580.06 329.91,579.75 331.91,579.45 333.91,579.14 335.91,578.83 337.91,578.52 339.91,578.21 341.91,577.89 343.91,577.57 345.91,577.24 347.9,576.91 349.9,576.58 351.9,576.25 353.89,575.91 355.89,575.57 357.88,575.22 359.88,574.88 361.87,574.54 363.87,574.19 365.86,573.85 367.86,573.5 369.85,573.16 371.85,572.81 373.84,572.46 375.84,572.12 377.83,571.77 379.83,571.43 381.82,571.08 383.82,570.74 385.81,570.39 387.81,570.05 389.8,569.7 389.8,569.7 404.1,571 458.8,570.4 516.3,564.1 631.7,563 633.7,562.79 635.7,562.58 637.7,562.37 639.7,562.15 641.7,561.94 643.69,561.73 645.69,561.52 647.69,561.31 649.69,561.1 651.69,560.88 653.69,560.67 655.69,560.45 657.68,560.23 659.68,560 661.68,559.77 663.67,559.53 665.67,559.29 667.66,559.03 669.65,558.77 671.64,558.5 673.63,558.22 675.62,557.93 677.61,557.63 679.6,557.33 681.58,557.02 683.57,556.72 685.56,556.4 687.54,556.09 689.53,555.78 691.51,555.46 693.5,555.15 695.48,554.83 697.47,554.52 699.45,554.2 701.44,553.89 703.43,553.57 705.41,553.26 707.4,552.94 709.38,552.63 711.37,552.31 713.35,552 715.34,551.68 717.32,551.37 719.31,551.05 721.29,550.74 723.28,550.42 725.26,550.11 727.25,549.8 729.24,549.49 731.22,549.17 733.21,548.86 735.19,548.55 737.18,548.24 739.17,547.94 741.15,547.63 743.14,547.32 745.13,547.02 747.11,546.71 749.1,546.41 751.09,546.11 753.08,545.82 755.06,545.53 757.05,545.25 759.04,544.99 761.04,544.73 763.03,544.5 765.03,544.28 767.02,544.08 769.02,543.89 771.02,543.73 773.03,543.58 775.03,543.45 777.04,543.32 779.04,543.21 781.05,543.1 783.05,543 785.06,542.9 787.07,542.8 789.08,542.7 791.09,542.6 793.09,542.51 795.1,542.41 797.11,542.32 799.12,542.22 801.13,542.13 803.13,542.03 805.14,541.93 807.15,541.84 809.16,541.74 811.16,541.65 813.17,541.55 815.18,541.46 817.19,541.36 819.2,541.26 821.2,541.17 823.21,541.07 825.22,540.98 827.23,540.88 829.24,540.78 831.24,540.68 833.25,540.58 835.26,540.47 837.26,540.36 839.27,540.24 841.28,540.11 843.28,539.98 845.29,539.84 847.29,539.69 849.29,539.52 851.29,539.35 853.3,539.18 855.3,538.99 857.3,538.8 859.3,538.61 861.3,538.41 863.3,538.21 865.3,538.01 867.3,537.81 869.3,537.6 871.3,537.4 873.3,537.2 875.3,537 877.3,536.79 879.3,536.59 881.3,536.39 883.3,536.18 885.3,535.98 887.3,535.77 889.3,535.56 891.29,535.35 893.29,535.13 895.29,534.9 897.28,534.67 899.28,534.42 901.27,534.16 903.26,533.88 905.24,533.59 907.23,533.28 909.21,532.95 911.19,532.61 913.17,532.26 915.14,531.89 917.11,531.52 919.09,531.13 921.06,530.74 923.03,530.35 925,529.95 926.97,529.54 928.93,529.12 930.9,528.71 932.86,528.28 934.83,527.86 936.79,527.42 938.75,526.99 940.72,526.55 942.68,526.11 944.64,525.67 946.6,525.23 948.56,524.78 950.52,524.34 952.48,523.89 954.44,523.45 956.4,523 956.4,523" fill="none" stroke="#2BA55B" stroke-width="2.2" stroke-linejoin="round" stroke-linecap="round" />
<polyline points="403.8,318.5 405,335.8 408,312 409,307.6 409.5,310.13 410.22,334.67 410.93,312.01 411.5,326.98 412.32,307.19 412.94,317.44 413.72,307.04 414.61,335.38 415.36,307.47 415.6,369.7 416.31,307.08 416.89,321.24 417.57,309.98 418.41,327.12 419,329.4 420.5,316 421.5,333 423,328.7 425,303.7 428,326 430,295.4 432,319.7 434,353 436,313 438,293.5 439.5,355 441,312 442,300.5 443,316.5 445,308.8 446.5,300.5 447,313 448.5,339 449.5,310 450,289.6 452,318.5 454.5,291.5 456.5,374 458.5,262 460,237.3 461.5,248 463,258 464,263.66 465.28,267.15 467.12,263.25 468.35,264.66 470.11,264.62 471.5,268.77 472.5,263.92 473.97,269.38 475.04,267.36 476.31,264.54 478.28,269.54 479.52,264.35 481.32,265.57 482.77,265.93 483.9,270.1 485.32,266.23 487.29,271.46 489.18,266.44 491.03,271.73 493.02,267.33 494.79,270.93 495.87,267.51 497.11,272.58 498.56,271.34 500.14,272.09 501.29,273.92 502.54,269.22 504.48,269.56 506.36,273.56 507.47,268.93 508.71,274.96 510.53,271.27 511.7,274.32 512.93,273.25 516,280.91 518.12,302.83 519.76,280.46 521.14,292.94 522.47,282.23 524.56,302.48 526.45,284.92 527.79,311.05 529.69,291.09 530.92,299.48 532.85,283.15 535.05,290.32 536.98,291.34 538.92,302.74 541.03,284.4 542.92,307.04 543.6,323.6 545.59,292.23 547.36,303.74 549.15,288.51 550.43,304.82 552.51,290.94 554.09,307.56 555.73,293.55 556.6,333 558.55,284.55 560.35,304.37 562.25,288.74 563,310.77 564.58,304.81 565.6,380 567.12,291.94 569.42,331.18 571.7,294.07 573.73,314.24 575.92,310.53 577,353.5 578.72,299.69 580.37,311.51 582.59,308.08 584.67,340.46 586.16,296.47 587.76,314.9 589,381 590.84,293.88 593.07,341.45 594.45,291.05 595,377.6 596.35,303.35 598.27,318.7 599.59,291.63 601.39,305.73 602.96,291.67 604.31,330.15 606.3,301.72 608.49,340.72 610.01,297.01 611.5,304.77 613.59,292.04 615.19,320.1 617.06,300.55 619.19,321.89 621.49,291.28 623.82,333.24 625.62,300.86 627.92,321.27 629.5,300 631,407 633,330 636.4,251.8 638,262 640,275 642,270 644,278 646,272 648,284 650,268 652,272 654,286 656,272 658,268 660,275 662,266 664,270 665,267.66 666.46,265.3 668.19,267.31 669.9,263.67 671.88,267.66 673.67,263.72 675.53,264.55 676.97,264.52 678.46,261.38 679.52,266.46 680.86,263.08 682.01,263.59 683.85,264.29 685.34,263.88 686.56,262.4 688.29,263.35 690.13,262.04 691.51,264.03 692.72,263.89 694.25,260.77 695.78,261.49 696.81,263.95 698.21,262.8 699.7,260.53 701.24,260.19 703.16,259.9 704.29,259.85 706.19,260.09 707.38,260.43 708.51,260.14 709.71,257.9 711.03,258.42 712.13,260.33 713.64,257.25 715.17,259.37 716.59,258.07 717.79,258.97 719.32,259.98 721.18,256.24 722.99,259.72 724.3,257.35 726.3,258.25 727.54,256.81 728.64,257.75 730.43,254.45 732.11,255.66 733,254 738,266 739,267.63 740.12,265.08 741.62,265.81 742.69,263.23 744.24,265.32 745.39,264.01 747.23,268.5 748.32,262.6 749.78,268.17 751.25,263.97 752.85,262.49 754.7,266.33 756.44,265.01 757.6,266.31 759.49,267.82 761.35,265.31 763.6,241 766.9,308.7 768.6,287 770.3,262 771.9,255 773.6,317.4 776,290 778.6,251 780.5,306 781.9,309.9 783.4,270 784.9,252.5 787.5,290 789.9,328.7 791.9,246 794.1,352.4 797,300 800.4,247.5 802.6,300 804.9,351.1 807.5,290 809.9,243.7 812.5,300 814.9,334.9 817.5,280 819.9,243.7 821.9,358.6 823.4,310 824.9,327.4 826.2,300 827.4,326.2 829.3,280 831.1,243 832.9,369.9 835.3,330 837.8,347.4 840,320 842.3,344.9 844.2,280 846.1,242 847.3,302.4 848.5,290 849.8,303.7 852.3,247.5 854.8,362.4 857.8,243.7 861.1,336.2 864,243.7 866.6,344.9 870.3,243.7 872.3,322.4 876.1,243 878.6,327.4 881.1,245 883.6,314.9 886.8,243.7 889.8,328.7 892.3,242 894.8,356.1 897.3,242.5 899.8,302.4 902.3,240 904.8,285 907.3,240 908.6,316.2 910.5,280 912.3,307.4 914.8,238.7 917.3,282.4 919.8,241 922.3,285 923.5,240 926,260 927.3,238.7 928,243.41 929.29,262.75 930.54,246.6 931.7,262.64 932.94,248.74 934.06,261.6 935,245.74 935.74,253.9 936.45,240.88 937.53,258.81 938.8,244.43 939.7,259.18 940.72,240.73 942.02,258.63 943.18,249.6 943.89,257.96 944.75,240.4 945.48,249.84 946,237.67 946.77,249.58 947.56,239.57 948.35,250 948.83,239.55 949.55,241.68 950.05,238.23 950.56,247.53 951.03,242.85 951.63,247.49 952.21,236.64 952.89,247.39 953.59,236.42 954.04,243.34 954.55,239.69 955.13,249.88 955.6,242.04 956.38,240.31 956.98,236.79" fill="none" stroke="#0B7D7F" stroke-width="2.1" stroke-linejoin="round" stroke-linecap="round" />
<text x="1" y="853" fill="#000" font-size="42" font-family="Liberation Sans, sans-serif" font-weight="bold">B</text>
<line x1="113.5" y1="848.5" x2="113.5" y2="1424.9" stroke="#EC2F2F" stroke-width="1.8" />
<line x1="99.7" y1="1424" x2="113.5" y2="1424" stroke="#EC2F2F" stroke-width="1.8" />
<text transform="translate(89.9,1433.2) scale(1,0.9)" fill="#EC2F2F" font-size="30.5" text-anchor="end" >0</text>
<line x1="106.5" y1="1392.08" x2="113.5" y2="1392.08" stroke="#EC2F2F" stroke-width="1.8" />
<line x1="99.7" y1="1360.16" x2="113.5" y2="1360.16" stroke="#EC2F2F" stroke-width="1.8" />
<text transform="translate(89.9,1369.36) scale(1,0.9)" fill="#EC2F2F" font-size="30.5" text-anchor="end" >10</text>
<line x1="106.5" y1="1328.23" x2="113.5" y2="1328.23" stroke="#EC2F2F" stroke-width="1.8" />
<line x1="99.7" y1="1296.31" x2="113.5" y2="1296.31" stroke="#EC2F2F" stroke-width="1.8" />
<text transform="translate(89.9,1305.51) scale(1,0.9)" fill="#EC2F2F" font-size="30.5" text-anchor="end" >20</text>
<line x1="106.5" y1="1264.39" x2="113.5" y2="1264.39" stroke="#EC2F2F" stroke-width="1.8" />
<line x1="99.7" y1="1232.47" x2="113.5" y2="1232.47" stroke="#EC2F2F" stroke-width="1.8" />
<text transform="translate(89.9,1241.67) scale(1,0.9)" fill="#EC2F2F" font-size="30.5" text-anchor="end" >30</text>
<line x1="106.5" y1="1200.54" x2="113.5" y2="1200.54" stroke="#EC2F2F" stroke-width="1.8" />
<line x1="99.7" y1="1168.62" x2="113.5" y2="1168.62" stroke="#EC2F2F" stroke-width="1.8" />
<text transform="translate(89.9,1177.82) scale(1,0.9)" fill="#EC2F2F" font-size="30.5" text-anchor="end" >40</text>
<line x1="106.5" y1="1136.7" x2="113.5" y2="1136.7" stroke="#EC2F2F" stroke-width="1.8" />
<line x1="99.7" y1="1104.78" x2="113.5" y2="1104.78" stroke="#EC2F2F" stroke-width="1.8" />
<text transform="translate(89.9,1113.98) scale(1,0.9)" fill="#EC2F2F" font-size="30.5" text-anchor="end" >50</text>
<line x1="106.5" y1="1072.86" x2="113.5" y2="1072.86" stroke="#EC2F2F" stroke-width="1.8" />
<line x1="99.7" y1="1040.93" x2="113.5" y2="1040.93" stroke="#EC2F2F" stroke-width="1.8" />
<text transform="translate(89.9,1050.13) scale(1,0.9)" fill="#EC2F2F" font-size="30.5" text-anchor="end" >60</text>
<line x1="106.5" y1="1009.01" x2="113.5" y2="1009.01" stroke="#EC2F2F" stroke-width="1.8" />
<line x1="99.7" y1="977.09" x2="113.5" y2="977.09" stroke="#EC2F2F" stroke-width="1.8" />
<text transform="translate(89.9,986.29) scale(1,0.9)" fill="#EC2F2F" font-size="30.5" text-anchor="end" >70</text>
<line x1="106.5" y1="945.17" x2="113.5" y2="945.17" stroke="#EC2F2F" stroke-width="1.8" />
<line x1="99.7" y1="913.24" x2="113.5" y2="913.24" stroke="#EC2F2F" stroke-width="1.8" />
<text transform="translate(89.9,922.44) scale(1,0.9)" fill="#EC2F2F" font-size="30.5" text-anchor="end" >80</text>
<line x1="106.5" y1="881.32" x2="113.5" y2="881.32" stroke="#EC2F2F" stroke-width="1.8" />
<line x1="99.7" y1="849.4" x2="113.5" y2="849.4" stroke="#EC2F2F" stroke-width="1.8" />
<text transform="translate(89.9,858.6) scale(1,0.9)" fill="#EC2F2F" font-size="30.5" text-anchor="end" >90</text>
<line x1="212.9" y1="848.2" x2="212.9" y2="1425.2" stroke="#4A4A4A" stroke-width="2.4" />
<line x1="199.1" y1="1424" x2="212.9" y2="1424" stroke="#4A4A4A" stroke-width="2.4" />
<text transform="translate(189.3,1433.2) scale(1,0.9)" fill="#4A4A4A" font-size="30.5" text-anchor="end" >0</text>
<line x1="205.9" y1="1388.09" x2="212.9" y2="1388.09" stroke="#4A4A4A" stroke-width="2.4" />
<line x1="199.1" y1="1352.17" x2="212.9" y2="1352.17" stroke="#4A4A4A" stroke-width="2.4" />
<text transform="translate(189.3,1361.38) scale(1,0.9)" fill="#4A4A4A" font-size="30.5" text-anchor="end" >10</text>
<line x1="205.9" y1="1316.26" x2="212.9" y2="1316.26" stroke="#4A4A4A" stroke-width="2.4" />
<line x1="199.1" y1="1280.35" x2="212.9" y2="1280.35" stroke="#4A4A4A" stroke-width="2.4" />
<text transform="translate(189.3,1289.55) scale(1,0.9)" fill="#4A4A4A" font-size="30.5" text-anchor="end" >20</text>
<line x1="205.9" y1="1244.44" x2="212.9" y2="1244.44" stroke="#4A4A4A" stroke-width="2.4" />
<line x1="199.1" y1="1208.53" x2="212.9" y2="1208.53" stroke="#4A4A4A" stroke-width="2.4" />
<text transform="translate(189.3,1217.73) scale(1,0.9)" fill="#4A4A4A" font-size="30.5" text-anchor="end" >30</text>
<line x1="205.9" y1="1172.61" x2="212.9" y2="1172.61" stroke="#4A4A4A" stroke-width="2.4" />
<line x1="199.1" y1="1136.7" x2="212.9" y2="1136.7" stroke="#4A4A4A" stroke-width="2.4" />
<text transform="translate(189.3,1145.9) scale(1,0.9)" fill="#4A4A4A" font-size="30.5" text-anchor="end" >40</text>
<line x1="205.9" y1="1100.79" x2="212.9" y2="1100.79" stroke="#4A4A4A" stroke-width="2.4" />
<line x1="199.1" y1="1064.88" x2="212.9" y2="1064.88" stroke="#4A4A4A" stroke-width="2.4" />
<text transform="translate(189.3,1074.08) scale(1,0.9)" fill="#4A4A4A" font-size="30.5" text-anchor="end" >50</text>
<line x1="205.9" y1="1028.96" x2="212.9" y2="1028.96" stroke="#4A4A4A" stroke-width="2.4" />
<line x1="199.1" y1="993.05" x2="212.9" y2="993.05" stroke="#4A4A4A" stroke-width="2.4" />
<text transform="translate(189.3,1002.25) scale(1,0.9)" fill="#4A4A4A" font-size="30.5" text-anchor="end" >60</text>
<line x1="205.9" y1="957.14" x2="212.9" y2="957.14" stroke="#4A4A4A" stroke-width="2.4" />
<line x1="199.1" y1="921.23" x2="212.9" y2="921.23" stroke="#4A4A4A" stroke-width="2.4" />
<text transform="translate(189.3,930.43) scale(1,0.9)" fill="#4A4A4A" font-size="30.5" text-anchor="end" >70</text>
<line x1="205.9" y1="885.31" x2="212.9" y2="885.31" stroke="#4A4A4A" stroke-width="2.4" />
<line x1="199.1" y1="849.4" x2="212.9" y2="849.4" stroke="#4A4A4A" stroke-width="2.4" />
<text transform="translate(189.3,858.6) scale(1,0.9)" fill="#4A4A4A" font-size="30.5" text-anchor="end" >80</text>
<line x1="981" y1="848.3" x2="981" y2="1425.1" stroke="#1A67DE" stroke-width="2.2" />
<line x1="981" y1="1424" x2="994.8" y2="1424" stroke="#1A67DE" stroke-width="2.2" />
<text transform="translate(1004.6,1433.2) scale(1,0.9)" fill="#1A67DE" font-size="30.5" text-anchor="start" >0.0</text>
<line x1="981" y1="1382.96" x2="988" y2="1382.96" stroke="#1A67DE" stroke-width="2.2" />
<line x1="981" y1="1341.91" x2="994.8" y2="1341.91" stroke="#1A67DE" stroke-width="2.2" />
<text transform="translate(1004.6,1351.11) scale(1,0.9)" fill="#1A67DE" font-size="30.5" text-anchor="start" >0.4</text>
<line x1="981" y1="1300.87" x2="988" y2="1300.87" stroke="#1A67DE" stroke-width="2.2" />
<line x1="981" y1="1259.83" x2="994.8" y2="1259.83" stroke="#1A67DE" stroke-width="2.2" />
<text transform="translate(1004.6,1269.03) scale(1,0.9)" fill="#1A67DE" font-size="30.5" text-anchor="start" >0.8</text>
<line x1="981" y1="1218.79" x2="988" y2="1218.79" stroke="#1A67DE" stroke-width="2.2" />
<line x1="981" y1="1177.74" x2="994.8" y2="1177.74" stroke="#1A67DE" stroke-width="2.2" />
<text transform="translate(1004.6,1186.94) scale(1,0.9)" fill="#1A67DE" font-size="30.5" text-anchor="start" >1.2</text>
<line x1="981" y1="1136.7" x2="988" y2="1136.7" stroke="#1A67DE" stroke-width="2.2" />
<line x1="981" y1="1095.66" x2="994.8" y2="1095.66" stroke="#1A67DE" stroke-width="2.2" />
<text transform="translate(1004.6,1104.86) scale(1,0.9)" fill="#1A67DE" font-size="30.5" text-anchor="start" >1.6</text>
<line x1="981" y1="1054.61" x2="988" y2="1054.61" stroke="#1A67DE" stroke-width="2.2" />
<line x1="981" y1="1013.57" x2="994.8" y2="1013.57" stroke="#1A67DE" stroke-width="2.2" />
<text transform="translate(1004.6,1022.77) scale(1,0.9)" fill="#1A67DE" font-size="30.5" text-anchor="start" >2.0</text>
<line x1="981" y1="972.53" x2="988" y2="972.53" stroke="#1A67DE" stroke-width="2.2" />
<line x1="981" y1="931.49" x2="994.8" y2="931.49" stroke="#1A67DE" stroke-width="2.2" />
<text transform="translate(1004.6,940.69) scale(1,0.9)" fill="#1A67DE" font-size="30.5" text-anchor="start" >2.4</text>
<line x1="981" y1="890.44" x2="988" y2="890.44" stroke="#1A67DE" stroke-width="2.2" />
<line x1="981" y1="849.4" x2="994.8" y2="849.4" stroke="#1A67DE" stroke-width="2.2" />
<text transform="translate(1004.6,858.6) scale(1,0.9)" fill="#1A67DE" font-size="30.5" text-anchor="start" >2.8</text>
<line x1="1096" y1="848.4" x2="1096" y2="1425" stroke="#2BA55B" stroke-width="2" />
<line x1="1096" y1="1424" x2="1109.8" y2="1424" stroke="#2BA55B" stroke-width="2" />
<text transform="translate(1119.6,1433.2) scale(1,0.9)" fill="#2BA55B" font-size="30.5" text-anchor="start" >0</text>
<line x1="1096" y1="1395.27" x2="1103" y2="1395.27" stroke="#2BA55B" stroke-width="2" />
<line x1="1096" y1="1366.54" x2="1109.8" y2="1366.54" stroke="#2BA55B" stroke-width="2" />
<text transform="translate(1119.6,1375.74) scale(1,0.9)" fill="#2BA55B" font-size="30.5" text-anchor="start" >2</text>
<line x1="1096" y1="1337.81" x2="1103" y2="1337.81" stroke="#2BA55B" stroke-width="2" />
<line x1="1096" y1="1309.08" x2="1109.8" y2="1309.08" stroke="#2BA55B" stroke-width="2" />
<text transform="translate(1119.6,1318.28) scale(1,0.9)" fill="#2BA55B" font-size="30.5" text-anchor="start" >4</text>
<line x1="1096" y1="1280.35" x2="1103" y2="1280.35" stroke="#2BA55B" stroke-width="2" />
<line x1="1096" y1="1251.62" x2="1109.8" y2="1251.62" stroke="#2BA55B" stroke-width="2" />
<text transform="translate(1119.6,1260.82) scale(1,0.9)" fill="#2BA55B" font-size="30.5" text-anchor="start" >6</text>
<line x1="1096" y1="1222.89" x2="1103" y2="1222.89" stroke="#2BA55B" stroke-width="2" />
<line x1="1096" y1="1194.16" x2="1109.8" y2="1194.16" stroke="#2BA55B" stroke-width="2" />
<text transform="translate(1119.6,1203.36) scale(1,0.9)" fill="#2BA55B" font-size="30.5" text-anchor="start" >8</text>
<line x1="1096" y1="1165.43" x2="1103" y2="1165.43" stroke="#2BA55B" stroke-width="2" />
<line x1="1096" y1="1136.7" x2="1109.8" y2="1136.7" stroke="#2BA55B" stroke-width="2" />
<text transform="translate(1119.6,1145.9) scale(1,0.9)" fill="#2BA55B" font-size="30.5" text-anchor="start" >10</text>
<line x1="1096" y1="1107.97" x2="1103" y2="1107.97" stroke="#2BA55B" stroke-width="2" />
<line x1="1096" y1="1079.24" x2="1109.8" y2="1079.24" stroke="#2BA55B" stroke-width="2" />
<text transform="translate(1119.6,1088.44) scale(1,0.9)" fill="#2BA55B" font-size="30.5" text-anchor="start" >12</text>
<line x1="1096" y1="1050.51" x2="1103" y2="1050.51" stroke="#2BA55B" stroke-width="2" />
<line x1="1096" y1="1021.78" x2="1109.8" y2="1021.78" stroke="#2BA55B" stroke-width="2" />
<text transform="translate(1119.6,1030.98) scale(1,0.9)" fill="#2BA55B" font-size="30.5" text-anchor="start" >14</text>
<line x1="1096" y1="993.05" x2="1103" y2="993.05" stroke="#2BA55B" stroke-width="2" />
<line x1="1096" y1="964.32" x2="1109.8" y2="964.32" stroke="#2BA55B" stroke-width="2" />
<text transform="translate(1119.6,973.52) scale(1,0.9)" fill="#2BA55B" font-size="30.5" text-anchor="start" >16</text>
<line x1="1096" y1="935.59" x2="1103" y2="935.59" stroke="#2BA55B" stroke-width="2" />
<line x1="1096" y1="906.86" x2="1109.8" y2="906.86" stroke="#2BA55B" stroke-width="2" />
<text transform="translate(1119.6,916.06) scale(1,0.9)" fill="#2BA55B" font-size="30.5" text-anchor="start" >18</text>
<line x1="1096" y1="878.13" x2="1103" y2="878.13" stroke="#2BA55B" stroke-width="2" />
<line x1="1096" y1="849.4" x2="1109.8" y2="849.4" stroke="#2BA55B" stroke-width="2" />
<text transform="translate(1119.6,858.6) scale(1,0.9)" fill="#2BA55B" font-size="30.5" text-anchor="start" >20</text>
<line x1="1195.9" y1="848.35" x2="1195.9" y2="1425.05" stroke="#0B7D7F" stroke-width="2.1" />
<line x1="1195.9" y1="1424" x2="1209.7" y2="1424" stroke="#0B7D7F" stroke-width="2.1" />
<text transform="translate(1219.5,1433.2) scale(1,0.9)" fill="#0B7D7F" font-size="30.5" text-anchor="start" >1E-10</text>
<line x1="1195.9" y1="1411.64" x2="1202.9" y2="1411.64" stroke="#0B7D7F" stroke-width="1.6800000000000002" />
<line x1="1195.9" y1="1404.42" x2="1202.9" y2="1404.42" stroke="#0B7D7F" stroke-width="1.6800000000000002" />
<line x1="1195.9" y1="1399.29" x2="1202.9" y2="1399.29" stroke="#0B7D7F" stroke-width="1.6800000000000002" />
<line x1="1195.9" y1="1395.31" x2="1202.9" y2="1395.31" stroke="#0B7D7F" stroke-width="1.6800000000000002" />
<line x1="1195.9" y1="1392.06" x2="1202.9" y2="1392.06" stroke="#0B7D7F" stroke-width="1.6800000000000002" />
<line x1="1195.9" y1="1389.31" x2="1202.9" y2="1389.31" stroke="#0B7D7F" stroke-width="1.6800000000000002" />
<line x1="1195.9" y1="1386.93" x2="1202.9" y2="1386.93" stroke="#0B7D7F" stroke-width="1.6800000000000002" />
<line x1="1195.9" y1="1384.84" x2="1202.9" y2="1384.84" stroke="#0B7D7F" stroke-width="1.6800000000000002" />
<line x1="1195.9" y1="1382.96" x2="1209.7" y2="1382.96" stroke="#0B7D7F" stroke-width="2.1" />
<text transform="translate(1219.5,1392.16) scale(1,0.9)" fill="#0B7D7F" font-size="30.5" text-anchor="start" >1E-9</text>
<line x1="1195.9" y1="1370.6" x2="1202.9" y2="1370.6" stroke="#0B7D7F" stroke-width="1.6800000000000002" />
<line x1="1195.9" y1="1363.37" x2="1202.9" y2="1363.37" stroke="#0B7D7F" stroke-width="1.6800000000000002" />
<line x1="1195.9" y1="1358.25" x2="1202.9" y2="1358.25" stroke="#0B7D7F" stroke-width="1.6800000000000002" />
<line x1="1195.9" y1="1354.27" x2="1202.9" y2="1354.27" stroke="#0B7D7F" stroke-width="1.6800000000000002" />
<line x1="1195.9" y1="1351.02" x2="1202.9" y2="1351.02" stroke="#0B7D7F" stroke-width="1.6800000000000002" />
<line x1="1195.9" y1="1348.27" x2="1202.9" y2="1348.27" stroke="#0B7D7F" stroke-width="1.6800000000000002" />
<line x1="1195.9" y1="1345.89" x2="1202.9" y2="1345.89" stroke="#0B7D7F" stroke-width="1.6800000000000002" />
<line x1="1195.9" y1="1343.79" x2="1202.9" y2="1343.79" stroke="#0B7D7F" stroke-width="1.6800000000000002" />
<line x1="1195.9" y1="1341.91" x2="1209.7" y2="1341.91" stroke="#0B7D7F" stroke-width="2.1" />
<text transform="translate(1219.5,1351.11) scale(1,0.9)" fill="#0B7D7F" font-size="30.5" text-anchor="start" >1E-8</text>
<line x1="1195.9" y1="1329.56" x2="1202.9" y2="1329.56" stroke="#0B7D7F" stroke-width="1.6800000000000002" />
<line x1="1195.9" y1="1322.33" x2="1202.9" y2="1322.33" stroke="#0B7D7F" stroke-width="1.6800000000000002" />
<line x1="1195.9" y1="1317.2" x2="1202.9" y2="1317.2" stroke="#0B7D7F" stroke-width="1.6800000000000002" />
<line x1="1195.9" y1="1313.23" x2="1202.9" y2="1313.23" stroke="#0B7D7F" stroke-width="1.6800000000000002" />
<line x1="1195.9" y1="1309.98" x2="1202.9" y2="1309.98" stroke="#0B7D7F" stroke-width="1.6800000000000002" />
<line x1="1195.9" y1="1307.23" x2="1202.9" y2="1307.23" stroke="#0B7D7F" stroke-width="1.6800000000000002" />
<line x1="1195.9" y1="1304.85" x2="1202.9" y2="1304.85" stroke="#0B7D7F" stroke-width="1.6800000000000002" />
<line x1="1195.9" y1="1302.75" x2="1202.9" y2="1302.75" stroke="#0B7D7F" stroke-width="1.6800000000000002" />
<line x1="1195.9" y1="1300.87" x2="1209.7" y2="1300.87" stroke="#0B7D7F" stroke-width="2.1" />
<text transform="translate(1219.5,1310.07) scale(1,0.9)" fill="#0B7D7F" font-size="30.5" text-anchor="start" >1E-7</text>
<line x1="1195.9" y1="1288.52" x2="1202.9" y2="1288.52" stroke="#0B7D7F" stroke-width="1.6800000000000002" />
<line x1="1195.9" y1="1281.29" x2="1202.9" y2="1281.29" stroke="#0B7D7F" stroke-width="1.6800000000000002" />
<line x1="1195.9" y1="1276.16" x2="1202.9" y2="1276.16" stroke="#0B7D7F" stroke-width="1.6800000000000002" />
<line x1="1195.9" y1="1272.18" x2="1202.9" y2="1272.18" stroke="#0B7D7F" stroke-width="1.6800000000000002" />
<line x1="1195.9" y1="1268.93" x2="1202.9" y2="1268.93" stroke="#0B7D7F" stroke-width="1.6800000000000002" />
<line x1="1195.9" y1="1266.19" x2="1202.9" y2="1266.19" stroke="#0B7D7F" stroke-width="1.6800000000000002" />
<line x1="1195.9" y1="1263.81" x2="1202.9" y2="1263.81" stroke="#0B7D7F" stroke-width="1.6800000000000002" />
<line x1="1195.9" y1="1261.71" x2="1202.9" y2="1261.71" stroke="#0B7D7F" stroke-width="1.6800000000000002" />
<line x1="1195.9" y1="1259.83" x2="1209.7" y2="1259.83" stroke="#0B7D7F" stroke-width="2.1" />
<text transform="translate(1219.5,1269.03) scale(1,0.9)" fill="#0B7D7F" font-size="30.5" text-anchor="start" >1E-6</text>
<line x1="1195.9" y1="1247.47" x2="1202.9" y2="1247.47" stroke="#0B7D7F" stroke-width="1.6800000000000002" />
<line x1="1195.9" y1="1240.25" x2="1202.9" y2="1240.25" stroke="#0B7D7F" stroke-width="1.6800000000000002" />
<line x1="1195.9" y1="1235.12" x2="1202.9" y2="1235.12" stroke="#0B7D7F" stroke-width="1.6800000000000002" />
<line x1="1195.9" y1="1231.14" x2="1202.9" y2="1231.14" stroke="#0B7D7F" stroke-width="1.6800000000000002" />
<line x1="1195.9" y1="1227.89" x2="1202.9" y2="1227.89" stroke="#0B7D7F" stroke-width="1.6800000000000002" />
<line x1="1195.9" y1="1225.14" x2="1202.9" y2="1225.14" stroke="#0B7D7F" stroke-width="1.6800000000000002" />
<line x1="1195.9" y1="1222.76" x2="1202.9" y2="1222.76" stroke="#0B7D7F" stroke-width="1.6800000000000002" />
<line x1="1195.9" y1="1220.66" x2="1202.9" y2="1220.66" stroke="#0B7D7F" stroke-width="1.6800000000000002" />
<line x1="1195.9" y1="1218.79" x2="1209.7" y2="1218.79" stroke="#0B7D7F" stroke-width="2.1" />
<text transform="translate(1219.5,1227.99) scale(1,0.9)" fill="#0B7D7F" font-size="30.5" text-anchor="start" >1E-5</text>
<line x1="1195.9" y1="1206.43" x2="1202.9" y2="1206.43" stroke="#0B7D7F" stroke-width="1.6800000000000002" />
<line x1="1195.9" y1="1199.2" x2="1202.9" y2="1199.2" stroke="#0B7D7F" stroke-width="1.6800000000000002" />
<line x1="1195.9" y1="1194.08" x2="1202.9" y2="1194.08" stroke="#0B7D7F" stroke-width="1.6800000000000002" />
<line x1="1195.9" y1="1190.1" x2="1202.9" y2="1190.1" stroke="#0B7D7F" stroke-width="1.6800000000000002" />
<line x1="1195.9" y1="1186.85" x2="1202.9" y2="1186.85" stroke="#0B7D7F" stroke-width="1.6800000000000002" />
<line x1="1195.9" y1="1184.1" x2="1202.9" y2="1184.1" stroke="#0B7D7F" stroke-width="1.6800000000000002" />
<line x1="1195.9" y1="1181.72" x2="1202.9" y2="1181.72" stroke="#0B7D7F" stroke-width="1.6800000000000002" />
<line x1="1195.9" y1="1179.62" x2="1202.9" y2="1179.62" stroke="#0B7D7F" stroke-width="1.6800000000000002" />
<line x1="1195.9" y1="1177.74" x2="1209.7" y2="1177.74" stroke="#0B7D7F" stroke-width="2.1" />
<text transform="translate(1219.5,1186.94) scale(1,0.9)" fill="#0B7D7F" font-size="30.5" text-anchor="start" >1E-4</text>
<line x1="1195.9" y1="1165.39" x2="1202.9" y2="1165.39" stroke="#0B7D7F" stroke-width="1.6800000000000002" />
<line x1="1195.9" y1="1158.16" x2="1202.9" y2="1158.16" stroke="#0B7D7F" stroke-width="1.6800000000000002" />
<line x1="1195.9" y1="1153.03" x2="1202.9" y2="1153.03" stroke="#0B7D7F" stroke-width="1.6800000000000002" />
<line x1="1195.9" y1="1149.06" x2="1202.9" y2="1149.06" stroke="#0B7D7F" stroke-width="1.6800000000000002" />
<line x1="1195.9" y1="1145.81" x2="1202.9" y2="1145.81" stroke="#0B7D7F" stroke-width="1.6800000000000002" />
<line x1="1195.9" y1="1143.06" x2="1202.9" y2="1143.06" stroke="#0B7D7F" stroke-width="1.6800000000000002" />
<line x1="1195.9" y1="1140.68" x2="1202.9" y2="1140.68" stroke="#0B7D7F" stroke-width="1.6800000000000002" />
<line x1="1195.9" y1="1138.58" x2="1202.9" y2="1138.58" stroke="#0B7D7F" stroke-width="1.6800000000000002" />
<line x1="1195.9" y1="1136.7" x2="1209.7" y2="1136.7" stroke="#0B7D7F" stroke-width="2.1" />
<text transform="translate(1219.5,1145.9) scale(1,0.9)" fill="#0B7D7F" font-size="30.5" text-anchor="start" >0.001</text>
<line x1="1195.9" y1="1124.34" x2="1202.9" y2="1124.34" stroke="#0B7D7F" stroke-width="1.6800000000000002" />
<line x1="1195.9" y1="1117.12" x2="1202.9" y2="1117.12" stroke="#0B7D7F" stroke-width="1.6800000000000002" />
<line x1="1195.9" y1="1111.99" x2="1202.9" y2="1111.99" stroke="#0B7D7F" stroke-width="1.6800000000000002" />
<line x1="1195.9" y1="1108.01" x2="1202.9" y2="1108.01" stroke="#0B7D7F" stroke-width="1.6800000000000002" />
<line x1="1195.9" y1="1104.76" x2="1202.9" y2="1104.76" stroke="#0B7D7F" stroke-width="1.6800000000000002" />
<line x1="1195.9" y1="1102.01" x2="1202.9" y2="1102.01" stroke="#0B7D7F" stroke-width="1.6800000000000002" />
<line x1="1195.9" y1="1099.63" x2="1202.9" y2="1099.63" stroke="#0B7D7F" stroke-width="1.6800000000000002" />
<line x1="1195.9" y1="1097.54" x2="1202.9" y2="1097.54" stroke="#0B7D7F" stroke-width="1.6800000000000002" />
<line x1="1195.9" y1="1095.66" x2="1209.7" y2="1095.66" stroke="#0B7D7F" stroke-width="2.1" />
<text transform="translate(1219.5,1104.86) scale(1,0.9)" fill="#0B7D7F" font-size="30.5" text-anchor="start" >0.01</text>
<line x1="1195.9" y1="1083.3" x2="1202.9" y2="1083.3" stroke="#0B7D7F" stroke-width="1.6800000000000002" />
<line x1="1195.9" y1="1076.07" x2="1202.9" y2="1076.07" stroke="#0B7D7F" stroke-width="1.6800000000000002" />
<line x1="1195.9" y1="1070.95" x2="1202.9" y2="1070.95" stroke="#0B7D7F" stroke-width="1.6800000000000002" />
<line x1="1195.9" y1="1066.97" x2="1202.9" y2="1066.97" stroke="#0B7D7F" stroke-width="1.6800000000000002" />
<line x1="1195.9" y1="1063.72" x2="1202.9" y2="1063.72" stroke="#0B7D7F" stroke-width="1.6800000000000002" />
<line x1="1195.9" y1="1060.97" x2="1202.9" y2="1060.97" stroke="#0B7D7F" stroke-width="1.6800000000000002" />
<line x1="1195.9" y1="1058.59" x2="1202.9" y2="1058.59" stroke="#0B7D7F" stroke-width="1.6800000000000002" />
<line x1="1195.9" y1="1056.49" x2="1202.9" y2="1056.49" stroke="#0B7D7F" stroke-width="1.6800000000000002" />
<line x1="1195.9" y1="1054.61" x2="1209.7" y2="1054.61" stroke="#0B7D7F" stroke-width="2.1" />
<text transform="translate(1219.5,1063.81) scale(1,0.9)" fill="#0B7D7F" font-size="30.5" text-anchor="start" >0.1</text>
<line x1="1195.9" y1="1042.26" x2="1202.9" y2="1042.26" stroke="#0B7D7F" stroke-width="1.6800000000000002" />
<line x1="1195.9" y1="1035.03" x2="1202.9" y2="1035.03" stroke="#0B7D7F" stroke-width="1.6800000000000002" />
<line x1="1195.9" y1="1029.9" x2="1202.9" y2="1029.9" stroke="#0B7D7F" stroke-width="1.6800000000000002" />
<line x1="1195.9" y1="1025.93" x2="1202.9" y2="1025.93" stroke="#0B7D7F" stroke-width="1.6800000000000002" />
<line x1="1195.9" y1="1022.68" x2="1202.9" y2="1022.68" stroke="#0B7D7F" stroke-width="1.6800000000000002" />
<line x1="1195.9" y1="1019.93" x2="1202.9" y2="1019.93" stroke="#0B7D7F" stroke-width="1.6800000000000002" />
<line x1="1195.9" y1="1017.55" x2="1202.9" y2="1017.55" stroke="#0B7D7F" stroke-width="1.6800000000000002" />
<line x1="1195.9" y1="1015.45" x2="1202.9" y2="1015.45" stroke="#0B7D7F" stroke-width="1.6800000000000002" />
<line x1="1195.9" y1="1013.57" x2="1209.7" y2="1013.57" stroke="#0B7D7F" stroke-width="2.1" />
<text transform="translate(1219.5,1022.77) scale(1,0.9)" fill="#0B7D7F" font-size="30.5" text-anchor="start" >1</text>
<line x1="1195.9" y1="1001.22" x2="1202.9" y2="1001.22" stroke="#0B7D7F" stroke-width="1.6800000000000002" />
<line x1="1195.9" y1="993.99" x2="1202.9" y2="993.99" stroke="#0B7D7F" stroke-width="1.6800000000000002" />
<line x1="1195.9" y1="988.86" x2="1202.9" y2="988.86" stroke="#0B7D7F" stroke-width="1.6800000000000002" />
<line x1="1195.9" y1="984.88" x2="1202.9" y2="984.88" stroke="#0B7D7F" stroke-width="1.6800000000000002" />
<line x1="1195.9" y1="981.63" x2="1202.9" y2="981.63" stroke="#0B7D7F" stroke-width="1.6800000000000002" />
<line x1="1195.9" y1="978.89" x2="1202.9" y2="978.89" stroke="#0B7D7F" stroke-width="1.6800000000000002" />
<line x1="1195.9" y1="976.51" x2="1202.9" y2="976.51" stroke="#0B7D7F" stroke-width="1.6800000000000002" />
<line x1="1195.9" y1="974.41" x2="1202.9" y2="974.41" stroke="#0B7D7F" stroke-width="1.6800000000000002" />
<line x1="1195.9" y1="972.53" x2="1209.7" y2="972.53" stroke="#0B7D7F" stroke-width="2.1" />
<text transform="translate(1219.5,981.73) scale(1,0.9)" fill="#0B7D7F" font-size="30.5" text-anchor="start" >10</text>
<line x1="1195.9" y1="960.17" x2="1202.9" y2="960.17" stroke="#0B7D7F" stroke-width="1.6800000000000002" />
<line x1="1195.9" y1="952.95" x2="1202.9" y2="952.95" stroke="#0B7D7F" stroke-width="1.6800000000000002" />
<line x1="1195.9" y1="947.82" x2="1202.9" y2="947.82" stroke="#0B7D7F" stroke-width="1.6800000000000002" />
<line x1="1195.9" y1="943.84" x2="1202.9" y2="943.84" stroke="#0B7D7F" stroke-width="1.6800000000000002" />
<line x1="1195.9" y1="940.59" x2="1202.9" y2="940.59" stroke="#0B7D7F" stroke-width="1.6800000000000002" />
<line x1="1195.9" y1="937.84" x2="1202.9" y2="937.84" stroke="#0B7D7F" stroke-width="1.6800000000000002" />
<line x1="1195.9" y1="935.46" x2="1202.9" y2="935.46" stroke="#0B7D7F" stroke-width="1.6800000000000002" />
<line x1="1195.9" y1="933.36" x2="1202.9" y2="933.36" stroke="#0B7D7F" stroke-width="1.6800000000000002" />
<line x1="1195.9" y1="931.49" x2="1209.7" y2="931.49" stroke="#0B7D7F" stroke-width="2.1" />
<text transform="translate(1219.5,940.69) scale(1,0.9)" fill="#0B7D7F" font-size="30.5" text-anchor="start" >100</text>
<line x1="1195.9" y1="919.13" x2="1202.9" y2="919.13" stroke="#0B7D7F" stroke-width="1.6800000000000002" />
<line x1="1195.9" y1="911.9" x2="1202.9" y2="911.9" stroke="#0B7D7F" stroke-width="1.6800000000000002" />
<line x1="1195.9" y1="906.78" x2="1202.9" y2="906.78" stroke="#0B7D7F" stroke-width="1.6800000000000002" />
<line x1="1195.9" y1="902.8" x2="1202.9" y2="902.8" stroke="#0B7D7F" stroke-width="1.6800000000000002" />
<line x1="1195.9" y1="899.55" x2="1202.9" y2="899.55" stroke="#0B7D7F" stroke-width="1.6800000000000002" />
<line x1="1195.9" y1="896.8" x2="1202.9" y2="896.8" stroke="#0B7D7F" stroke-width="1.6800000000000002" />
<line x1="1195.9" y1="894.42" x2="1202.9" y2="894.42" stroke="#0B7D7F" stroke-width="1.6800000000000002" />
<line x1="1195.9" y1="892.32" x2="1202.9" y2="892.32" stroke="#0B7D7F" stroke-width="1.6800000000000002" />
<line x1="1195.9" y1="890.44" x2="1209.7" y2="890.44" stroke="#0B7D7F" stroke-width="2.1" />
<text transform="translate(1219.5,899.64) scale(1,0.9)" fill="#0B7D7F" font-size="30.5" text-anchor="start" >1000</text>
<line x1="1195.9" y1="878.09" x2="1202.9" y2="878.09" stroke="#0B7D7F" stroke-width="1.6800000000000002" />
<line x1="1195.9" y1="870.86" x2="1202.9" y2="870.86" stroke="#0B7D7F" stroke-width="1.6800000000000002" />
<line x1="1195.9" y1="865.73" x2="1202.9" y2="865.73" stroke="#0B7D7F" stroke-width="1.6800000000000002" />
<line x1="1195.9" y1="861.76" x2="1202.9" y2="861.76" stroke="#0B7D7F" stroke-width="1.6800000000000002" />
<line x1="1195.9" y1="858.51" x2="1202.9" y2="858.51" stroke="#0B7D7F" stroke-width="1.6800000000000002" />
<line x1="1195.9" y1="855.76" x2="1202.9" y2="855.76" stroke="#0B7D7F" stroke-width="1.6800000000000002" />
<line x1="1195.9" y1="853.38" x2="1202.9" y2="853.38" stroke="#0B7D7F" stroke-width="1.6800000000000002" />
<line x1="1195.9" y1="851.28" x2="1202.9" y2="851.28" stroke="#0B7D7F" stroke-width="1.6800000000000002" />
<line x1="1195.9" y1="849.4" x2="1209.7" y2="849.4" stroke="#0B7D7F" stroke-width="2.1" />
<text transform="translate(1219.5,858.6) scale(1,0.9)" fill="#0B7D7F" font-size="30.5" text-anchor="start" >10000</text>
<line x1="212.9" y1="1424" x2="981" y2="1424" stroke="#000" stroke-width="2.2" />
<line x1="212.9" y1="1422.9" x2="212.9" y2="1436.2" stroke="#000" stroke-width="2.2" />
<text transform="translate(212.9,1466.4) scale(1,0.9)" fill="#000" font-size="30.5" text-anchor="middle" >0</text>
<line x1="260.91" y1="1422.9" x2="260.91" y2="1430.3" stroke="#000" stroke-width="2.2" />
<line x1="308.91" y1="1422.9" x2="308.91" y2="1436.2" stroke="#000" stroke-width="2.2" />
<text transform="translate(308.91,1466.4) scale(1,0.9)" fill="#000" font-size="30.5" text-anchor="middle" >400</text>
<line x1="356.92" y1="1422.9" x2="356.92" y2="1430.3" stroke="#000" stroke-width="2.2" />
<line x1="404.93" y1="1422.9" x2="404.93" y2="1436.2" stroke="#000" stroke-width="2.2" />
<text transform="translate(404.93,1466.4) scale(1,0.9)" fill="#000" font-size="30.5" text-anchor="middle" >800</text>
<line x1="452.93" y1="1422.9" x2="452.93" y2="1430.3" stroke="#000" stroke-width="2.2" />
<line x1="500.94" y1="1422.9" x2="500.94" y2="1436.2" stroke="#000" stroke-width="2.2" />
<text transform="translate(500.94,1466.4) scale(1,0.9)" fill="#000" font-size="30.5" text-anchor="middle" >1200</text>
<line x1="548.94" y1="1422.9" x2="548.94" y2="1430.3" stroke="#000" stroke-width="2.2" />
<line x1="596.95" y1="1422.9" x2="596.95" y2="1436.2" stroke="#000" stroke-width="2.2" />
<text transform="translate(596.95,1466.4) scale(1,0.9)" fill="#000" font-size="30.5" text-anchor="middle" >1600</text>
<line x1="644.96" y1="1422.9" x2="644.96" y2="1430.3" stroke="#000" stroke-width="2.2" />
<line x1="692.96" y1="1422.9" x2="692.96" y2="1436.2" stroke="#000" stroke-width="2.2" />
<text transform="translate(692.96,1466.4) scale(1,0.9)" fill="#000" font-size="30.5" text-anchor="middle" >2000</text>
<line x1="740.97" y1="1422.9" x2="740.97" y2="1430.3" stroke="#000" stroke-width="2.2" />
<line x1="788.98" y1="1422.9" x2="788.98" y2="1436.2" stroke="#000" stroke-width="2.2" />
<text transform="translate(788.98,1466.4) scale(1,0.9)" fill="#000" font-size="30.5" text-anchor="middle" >2400</text>
<line x1="836.98" y1="1422.9" x2="836.98" y2="1430.3" stroke="#000" stroke-width="2.2" />
<line x1="884.99" y1="1422.9" x2="884.99" y2="1436.2" stroke="#000" stroke-width="2.2" />
<text transform="translate(884.99,1466.4) scale(1,0.9)" fill="#000" font-size="30.5" text-anchor="middle" >2800</text>
<line x1="932.99" y1="1422.9" x2="932.99" y2="1430.3" stroke="#000" stroke-width="2.2" />
<line x1="981" y1="1422.9" x2="981" y2="1436.2" stroke="#000" stroke-width="2.2" />
<text transform="translate(981,1466.4) scale(1,0.9)" fill="#000" font-size="30.5" text-anchor="middle" >3200</text>
<text transform="translate(42.8,1137.5) rotate(-90)" fill="#EC2F2F" font-size="38" text-anchor="middle" textLength="307.3" lengthAdjust="spacingAndGlyphs" >Normal stress <tspan font-style="italic">σ</tspan> (Mpa)</text>
<text transform="translate(147.6,1136.7) rotate(-90)" fill="#4A4A4A" font-size="38" text-anchor="middle" textLength="275.2" lengthAdjust="spacingAndGlyphs" >Shear stress <tspan font-style="italic">τ</tspan> (Mpa)</text>
<text transform="translate(1083,1135.4) rotate(-90)" fill="#1A67DE" font-size="38" text-anchor="middle" textLength="258.4" lengthAdjust="spacingAndGlyphs" >Friction coefficient</text>
<text transform="translate(1178.3,1135) rotate(-90)" fill="#2BA55B" font-size="38" text-anchor="middle" textLength="346.9" lengthAdjust="spacingAndGlyphs" >Shear displacement (mm)</text>
<text transform="translate(1313.5,1136.5) rotate(-90)" fill="#0B7D7F" font-size="38" text-anchor="middle" textLength="277.9" lengthAdjust="spacingAndGlyphs" >Slip velocity (mm/s)</text>
<text x="536" y="1519.1" fill="#000" font-size="36.5" text-anchor="start" >Time (s)</text>
<text x="590.4" y="1606" fill="#000" font-size="42.5"><tspan font-style="italic">σ</tspan><tspan font-size="29" dy="4.8">ct</tspan></text>
<text transform="translate(637,1606) scale(1.12,1)" fill="#000" font-size="42.5">=</text>
<text x="674" y="1606" fill="#000" font-size="42.5">20</text>
<text x="724.5" y="1606" fill="#000" font-size="42.5">MPa</text>
<text x="210.8" y="845" fill="#000" font-size="22.6" text-anchor="start" >Stage I</text>
<text x="296.6" y="845" fill="#000" font-size="22.6" text-anchor="start" >Stage II</text>
<text x="589.3" y="844" fill="#000" font-size="22.8" text-anchor="start" >Stage III</text>
<line x1="255.5" y1="854.5" x2="237.48" y2="872.32" stroke="#000" stroke-width="1.0" />
<polygon points="229.3,880.4 234.95,869.76 240.01,874.88" fill="#000"/>
<line x1="334.9" y1="849.7" x2="310.03" y2="871.02" stroke="#000" stroke-width="1.0" />
<polygon points="301.3,878.5 307.69,868.28 312.37,873.75" fill="#000"/>
<line x1="242" y1="851.6" x2="242" y2="1424" stroke="#F000F0" stroke-width="2.5" stroke-dasharray="11.6 10.9"/>
<line x1="331.3" y1="851.6" x2="331.3" y2="1424" stroke="#F000F0" stroke-width="2.5" stroke-dasharray="11.6 10.9"/>
<polyline points="213.2,1424 239.4,1250 242,1233.1 246,1233.1 252.6,1200 267.9,1110 281.2,1030 281.51,1028.01 281.82,1026.02 282.13,1024.02 282.44,1022.03 282.75,1020.04 283.06,1018.05 283.37,1016.05 283.68,1014.06 283.99,1012.07 284.3,1010.08 284.61,1008.08 284.92,1006.09 285.23,1004.1 285.54,1002.11 285.85,1000.11 286.16,998.12 286.47,996.13 286.78,994.14 287.09,992.14 287.41,990.15 287.72,988.16 288.03,986.17 288.34,984.17 288.65,982.18 288.96,980.19 289.27,978.2 289.58,976.2 289.89,974.21 290.2,972.22 290.52,970.23 290.83,968.24 291.15,966.24 291.46,964.25 291.79,962.26 292.11,960.27 292.44,958.28 292.77,956.29 293.11,954.31 293.46,952.32 293.82,950.34 294.18,948.36 294.56,946.38 294.96,944.4 295.37,942.43 295.79,940.46 296.24,938.5 296.69,936.54 297.16,934.58 297.64,932.62 298.13,930.67 298.63,928.71 299.13,926.76 299.64,924.81 300.16,922.87 300.7,920.93 301.25,919 301.83,917.08 302.44,915.18 303.09,913.29 303.79,911.43 304.55,909.59 305.36,907.79 306.23,906.01 307.16,904.26 308.14,902.54 309.17,900.84 310.24,899.16 311.34,897.5 312.47,895.85 313.6,894.2 313.6,894.2 330.6,933.6 402.8,950.1 475.4,950.1 547.5,966 620,966 692.5,982 762.5,982 835,997.5 907.5,997.5 942.5,1005.5" fill="none" stroke="#EC2F2F" stroke-width="2.2" stroke-linejoin="round" stroke-linecap="round" />
<polyline points="213.2,1424 241,1364.8 244.4,1364.8 261.2,1290 291.5,1110 291.84,1107.98 292.17,1105.96 292.51,1103.94 292.85,1101.92 293.2,1099.9 293.56,1097.88 293.93,1095.87 294.31,1093.86 294.71,1091.85 295.13,1089.85 295.56,1087.85 296.02,1085.86 296.49,1083.86 296.99,1081.88 297.5,1079.9 298.03,1077.92 298.57,1075.95 299.14,1073.98 299.72,1072.03 300.33,1070.08 300.96,1068.14 301.63,1066.22 302.34,1064.33 303.1,1062.45 303.9,1060.6 304.76,1058.78 305.66,1056.99 306.62,1055.22 307.62,1053.49 308.66,1051.77 309.73,1050.07 310.82,1048.39 311.93,1046.71 313.04,1045.04 313.6,1044.2 331.2,1081.8 942.5,1081.5" fill="none" stroke="#4A4A4A" stroke-width="2.2" stroke-linejoin="round" stroke-linecap="round" />
<polyline points="241.8,1367.3 245.4,1367.3 250.4,1353 251.36,1351.2 252.32,1349.4 253.28,1347.6 254.25,1345.81 255.22,1344.02 256.21,1342.24 257.21,1340.46 258.22,1338.7 259.25,1336.94 260.3,1335.19 261.36,1333.46 262.44,1331.73 263.55,1330.02 264.67,1328.33 265.81,1326.65 266.98,1324.98 268.17,1323.34 269.4,1321.72 270.65,1320.13 271.93,1318.56 273.24,1317.02 274.59,1315.5 275.97,1314.02 277.39,1312.57 278.83,1311.15 280.3,1309.76 281.81,1308.42 283.35,1307.11 284.93,1305.85 286.53,1304.64 288.18,1303.48 289.85,1302.37 291.57,1301.33 293.31,1300.35 295.09,1299.44 296.9,1298.61 298.75,1297.84 300.62,1297.15 302.52,1296.52 304.45,1295.96 306.39,1295.44 308.35,1294.97 310.33,1294.53 312.31,1294.11 313.3,1293.9 331.1,1296.9 402.5,1292.5 475,1292.5 547.5,1288.5 620,1288.5 692.5,1283.5 762.5,1283.5 835,1277.5 907.5,1277.5 942.5,1275" fill="none" stroke="#1A67DE" stroke-width="2.3" stroke-linejoin="round" stroke-linecap="round" />
<polyline points="213.2,1424 214.62,1422.65 216.06,1421.32 217.53,1420.03 219.04,1418.8 220.6,1417.64 222.22,1416.56 223.89,1415.56 225.62,1414.64 227.4,1413.81 229.22,1413.04 231.07,1412.34 232.96,1411.7 234.87,1411.1 236.79,1410.54 238.73,1410.01 240.68,1409.51 242.64,1409.03 244.61,1408.57 246.58,1408.12 248.55,1407.69 250.52,1407.25 252.49,1406.82 254.47,1406.4 256.44,1405.97 258.41,1405.54 260.39,1405.1 262.36,1404.66 264.33,1404.21 266.29,1403.76 268.26,1403.29 270.22,1402.82 272.18,1402.34 274.15,1401.86 276.11,1401.37 278.06,1400.88 280.02,1400.38 281.98,1399.89 283.94,1399.39 285.9,1398.89 287.85,1398.39 289.81,1397.89 291.77,1397.39 293.73,1396.89 295.68,1396.4 297.64,1395.9 299.6,1395.4 301.56,1394.9 303.51,1394.4 305.47,1393.9 307.43,1393.4 309.39,1392.9 311.34,1392.4 313.3,1391.9 313.3,1391.9 331.1,1392.9 415,1392.5 420,1390 515,1390 520,1387.5 670,1387.5 676,1383.5 797.5,1382.5 802.5,1378.5 840,1373.5 940,1373.5 942.5,1355" fill="none" stroke="#2BA55B" stroke-width="2.1" stroke-linejoin="round" stroke-linecap="round" />
<polyline points="331,1232 331.5,1190 333,1170 334,1171.9 336.16,1214.21 338.33,1184.12 339.56,1200.73 341.61,1183.12 342.95,1200.88 344.86,1170.27 346.08,1189.18 348.47,1177.26 349.88,1214.29 351.88,1160.68 353.08,1217.15 354.56,1187.02 354.6,1322 356.18,1186 358.08,1209.57 360.5,1174.33 362.96,1218 364.63,1161.1 366.02,1180.73 368,1160 370.08,1195.02 372.35,1167.47 373.5,1245 375.33,1174.86 376.6,1233.25 378.9,1160.02 381.12,1196.32 382.33,1160.11 383.77,1220.33 385.95,1184.47 388.38,1195.32 390.26,1177.66 391.6,1212.38 393.92,1160.07 396.35,1182.34 398.34,1183.92 399.98,1219.16 401.59,1163.52 403.02,1181.55 405.11,1187.74 406.52,1179.63 408.42,1165.5 409.93,1206.15 411.72,1165.9 412.99,1229.4 415.8,1109 418,1125 421,1143 424,1150 426,1160 428,1158 430,1168 432,1182 434,1160.78 436.15,1225.94 438.38,1160.54 440.14,1188.14 441.72,1167.36 444.22,1221.88 446.01,1168.42 448.16,1205.31 449.89,1160.96 451,1274 453.48,1188.42 455.5,1206.26 456.82,1162.94 459.03,1222.51 461.25,1179.34 463.36,1213.75 465.03,1176.29 466.59,1205.62 468.69,1163.38 471.12,1213.12 472.34,1170.33 473.86,1214.09 476.12,1173.99 478.36,1198.91 480.52,1181.79 482.18,1221.48 484.27,1189.3 486.71,1207.14 488.13,1182.2 490.55,1205.22 492.68,1177.38 494.11,1218.82 494.6,1260.5 496.35,1173.08 498.55,1212.55 499.79,1161.13 501.56,1213.14 503.66,1173.35 504.91,1204.95 505,1240 506.37,1163.88 507.81,1233.58 509.5,1172.64 511.47,1193.17 512.67,1166.02 515.9,1096.5 518,1125 520,1150 523,1158 525,1168 527,1165.88 528.35,1218.3 529.6,1172.14 530.92,1206.26 532.87,1187.09 535.14,1200.56 537.17,1164.87 537.7,1235 539.67,1170.43 542.12,1223.75 543.78,1183.88 544.98,1184.46 545,1160 547.4,1144 549,1150 551,1146 553,1165 554,1160.95 556.02,1227.25 557.78,1162.23 559.36,1230.81 561.81,1187.54 563.78,1196.37 565.63,1166.67 567.24,1231.32 568.81,1168.55 570.17,1214.92 571.75,1180.8 574.03,1179.69 575.59,1188.72 577.8,1195.57 579.2,1191.75 580.78,1214.27 582.82,1173.07 584.99,1187.78 586.58,1170.46 588.22,1198.44 590.02,1165.18 592.19,1235.79 593.98,1187.7 596.34,1243.68 598.09,1171.99 600.21,1215.42 602.6,1165.83 604.31,1225.5 605.89,1183.17 607.18,1224.8 608.94,1163.41 611.16,1228.11 612.98,1171.01 614.82,1200.28 616.79,1182.26 618.08,1194.66 620.3,1175.49 621.54,1219.64 624.04,1177.1 625.3,1225.06 627.34,1189.67 628,1247 629.38,1163.54 631.77,1189.82 633.51,1161.21 635.52,1182.4 637.21,1160.28 638.48,1212.7 640.83,1160.87 642,1244.7 643.61,1172.93 645.45,1229.33 646.72,1176.93 648.11,1215.38 650.5,1171.22 652.51,1196.56 654.04,1179.33 655.91,1188.8 657.59,1178.69 659.02,1219.21 660.33,1175.67 661.65,1188.22 663.16,1185.58 664.99,1199.88 666.23,1178.16 667.5,1189.89 669.58,1162.18 670.93,1230.82 672.7,1082 675,1129.3 677,1134 679,1140 681,1136 683,1141.4 686,1144 688,1139 690,1146 693,1150 696,1165.7 698,1170 700,1182.6 702,1163.94 704.01,1204.54 705.65,1176.46 707.3,1206.2 709.58,1177.83 711.83,1208.66 713.7,1175.63 715.64,1223.45 716.97,1163.07 718.43,1185.07 720.26,1182.79 721.46,1210.53 723.46,1170.05 725.27,1189.54 726.68,1168.53 728.38,1229.77 729.91,1166.22 731.32,1200.9 733.14,1163.07 735.55,1205.32 737.64,1178.92 739.45,1232.63 741.52,1166.51 743.6,1222.95 745.06,1163.04 746.56,1188.03 749.03,1168.26 750.2,1289 752.01,1166.34 754.16,1222.42 755.67,1178.85 757,1248 759.04,1170.11 761.51,1244.35 763.24,1163.12 765.15,1234.55 766.81,1163.46 768.1,1230.58 770.52,1163.17 772.03,1185.95 773.31,1165.78 775.04,1235.45 777.51,1164.47 779.37,1207.07 780.68,1167.02 782.02,1214.08 783.99,1187.53 785.47,1183.11 785.6,1245.6 787.54,1168.59 789.56,1222.78 791.16,1170.67 793.43,1197.31 795.03,1163.4 797.24,1227.05 799.9,1082 802,1134 803,1133.99 804.3,1135.35 805.8,1132.32 807.05,1136.42 808.7,1133.33 810.28,1137.58 812.55,1136.65 814.44,1134.84 816.43,1138.82 818.47,1133.2 820.13,1134.3 821.53,1132.98 823.08,1131.29 824.94,1134.5 826.3,1133.45 828.64,1135.67 830.35,1132.95 831.57,1134.94 833.64,1130.91 835.05,1137.01 838,1140 840,1150 842,1144 845,1148 848,1142 850,1146 853,1152 857,1156 860,1165.7 862,1184.34 863.35,1200.7 865.15,1171.51 866.93,1220.7 868.82,1192.67 870.79,1189.2 872.54,1165.14 875.01,1184.42 876,1243 878.35,1170.44 879.83,1198.71 881.76,1169.58 883.93,1196.9 885.46,1193.33 887.75,1224.05 889,1240.8 890.39,1185.99 892.22,1184.79 893.55,1181.1 895.92,1194.67 897.54,1179.72 899.87,1214.64 901.55,1165.01 903.42,1213.07 905.13,1168.7 906.36,1200.45 908.18,1180.52 909.9,1229.31 910,1236 912.1,1179.23 914,1221.98 915.97,1179.59 917.85,1231.05 919.51,1175.99 921.7,1218.5 924.11,1167.86 926.24,1187.19 928.31,1192.02 930.68,1217.38 932.84,1177.05 934.31,1209.99 935.82,1192.93 937,1223.8 941.6,1047" fill="none" stroke="#0B7D7F" stroke-width="1.9" stroke-linejoin="round" stroke-linecap="round" />
<text x="0" y="1707.5" fill="#000" font-size="42" font-family="Liberation Sans, sans-serif" font-weight="bold">C</text>
<line x1="114.5" y1="1687.4" x2="114.5" y2="2295.2" stroke="#EC2F2F" stroke-width="1.8" />
<line x1="100.9" y1="2294.3" x2="114.5" y2="2294.3" stroke="#EC2F2F" stroke-width="1.8" />
<text transform="translate(90.7,2303.9) scale(1,1.05)" fill="#EC2F2F" font-size="30.5" text-anchor="end" >0</text>
<line x1="107.6" y1="2264" x2="114.5" y2="2264" stroke="#EC2F2F" stroke-width="1.8" />
<line x1="100.9" y1="2233.7" x2="114.5" y2="2233.7" stroke="#EC2F2F" stroke-width="1.8" />
<text transform="translate(90.7,2243.3) scale(1,1.05)" fill="#EC2F2F" font-size="30.5" text-anchor="end" >20</text>
<line x1="107.6" y1="2203.4" x2="114.5" y2="2203.4" stroke="#EC2F2F" stroke-width="1.8" />
<line x1="100.9" y1="2173.1" x2="114.5" y2="2173.1" stroke="#EC2F2F" stroke-width="1.8" />
<text transform="translate(90.7,2182.7) scale(1,1.05)" fill="#EC2F2F" font-size="30.5" text-anchor="end" >40</text>
<line x1="107.6" y1="2142.8" x2="114.5" y2="2142.8" stroke="#EC2F2F" stroke-width="1.8" />
<line x1="100.9" y1="2112.5" x2="114.5" y2="2112.5" stroke="#EC2F2F" stroke-width="1.8" />
<text transform="translate(90.7,2122.1) scale(1,1.05)" fill="#EC2F2F" font-size="30.5" text-anchor="end" >60</text>
<line x1="107.6" y1="2082.2" x2="114.5" y2="2082.2" stroke="#EC2F2F" stroke-width="1.8" />
<line x1="100.9" y1="2051.9" x2="114.5" y2="2051.9" stroke="#EC2F2F" stroke-width="1.8" />
<text transform="translate(90.7,2061.5) scale(1,1.05)" fill="#EC2F2F" font-size="30.5" text-anchor="end" >80</text>
<line x1="107.6" y1="2021.6" x2="114.5" y2="2021.6" stroke="#EC2F2F" stroke-width="1.8" />
<line x1="100.9" y1="1991.3" x2="114.5" y2="1991.3" stroke="#EC2F2F" stroke-width="1.8" />
<text transform="translate(90.7,2000.9) scale(1,1.05)" fill="#EC2F2F" font-size="30.5" text-anchor="end" >100</text>
<line x1="107.6" y1="1961" x2="114.5" y2="1961" stroke="#EC2F2F" stroke-width="1.8" />
<line x1="100.9" y1="1930.7" x2="114.5" y2="1930.7" stroke="#EC2F2F" stroke-width="1.8" />
<text transform="translate(90.7,1940.3) scale(1,1.05)" fill="#EC2F2F" font-size="30.5" text-anchor="end" >120</text>
<line x1="107.6" y1="1900.4" x2="114.5" y2="1900.4" stroke="#EC2F2F" stroke-width="1.8" />
<line x1="100.9" y1="1870.1" x2="114.5" y2="1870.1" stroke="#EC2F2F" stroke-width="1.8" />
<text transform="translate(90.7,1879.7) scale(1,1.05)" fill="#EC2F2F" font-size="30.5" text-anchor="end" >140</text>
<line x1="107.6" y1="1839.8" x2="114.5" y2="1839.8" stroke="#EC2F2F" stroke-width="1.8" />
<line x1="100.9" y1="1809.5" x2="114.5" y2="1809.5" stroke="#EC2F2F" stroke-width="1.8" />
<text transform="translate(90.7,1819.1) scale(1,1.05)" fill="#EC2F2F" font-size="30.5" text-anchor="end" >160</text>
<line x1="107.6" y1="1779.2" x2="114.5" y2="1779.2" stroke="#EC2F2F" stroke-width="1.8" />
<line x1="100.9" y1="1748.9" x2="114.5" y2="1748.9" stroke="#EC2F2F" stroke-width="1.8" />
<text transform="translate(90.7,1758.5) scale(1,1.05)" fill="#EC2F2F" font-size="30.5" text-anchor="end" >180</text>
<line x1="107.6" y1="1718.6" x2="114.5" y2="1718.6" stroke="#EC2F2F" stroke-width="1.8" />
<line x1="100.9" y1="1688.3" x2="114.5" y2="1688.3" stroke="#EC2F2F" stroke-width="1.8" />
<text transform="translate(90.7,1697.9) scale(1,1.05)" fill="#EC2F2F" font-size="30.5" text-anchor="end" >200</text>
<line x1="233.2" y1="1687.1" x2="233.2" y2="2295.5" stroke="#4A4A4A" stroke-width="2.4" />
<line x1="219.6" y1="2294.3" x2="233.2" y2="2294.3" stroke="#4A4A4A" stroke-width="2.4" />
<text transform="translate(209.4,2303.9) scale(1,1.05)" fill="#4A4A4A" font-size="30.5" text-anchor="end" >0</text>
<line x1="226.3" y1="2256.43" x2="233.2" y2="2256.43" stroke="#4A4A4A" stroke-width="2.4" />
<line x1="219.6" y1="2218.55" x2="233.2" y2="2218.55" stroke="#4A4A4A" stroke-width="2.4" />
<text transform="translate(209.4,2228.15) scale(1,1.05)" fill="#4A4A4A" font-size="30.5" text-anchor="end" >20</text>
<line x1="226.3" y1="2180.68" x2="233.2" y2="2180.68" stroke="#4A4A4A" stroke-width="2.4" />
<line x1="219.6" y1="2142.8" x2="233.2" y2="2142.8" stroke="#4A4A4A" stroke-width="2.4" />
<text transform="translate(209.4,2152.4) scale(1,1.05)" fill="#4A4A4A" font-size="30.5" text-anchor="end" >40</text>
<line x1="226.3" y1="2104.93" x2="233.2" y2="2104.93" stroke="#4A4A4A" stroke-width="2.4" />
<line x1="219.6" y1="2067.05" x2="233.2" y2="2067.05" stroke="#4A4A4A" stroke-width="2.4" />
<text transform="translate(209.4,2076.65) scale(1,1.05)" fill="#4A4A4A" font-size="30.5" text-anchor="end" >60</text>
<line x1="226.3" y1="2029.18" x2="233.2" y2="2029.18" stroke="#4A4A4A" stroke-width="2.4" />
<line x1="219.6" y1="1991.3" x2="233.2" y2="1991.3" stroke="#4A4A4A" stroke-width="2.4" />
<text transform="translate(209.4,2000.9) scale(1,1.05)" fill="#4A4A4A" font-size="30.5" text-anchor="end" >80</text>
<line x1="226.3" y1="1953.43" x2="233.2" y2="1953.43" stroke="#4A4A4A" stroke-width="2.4" />
<line x1="219.6" y1="1915.55" x2="233.2" y2="1915.55" stroke="#4A4A4A" stroke-width="2.4" />
<text transform="translate(209.4,1925.15) scale(1,1.05)" fill="#4A4A4A" font-size="30.5" text-anchor="end" >100</text>
<line x1="226.3" y1="1877.67" x2="233.2" y2="1877.67" stroke="#4A4A4A" stroke-width="2.4" />
<line x1="219.6" y1="1839.8" x2="233.2" y2="1839.8" stroke="#4A4A4A" stroke-width="2.4" />
<text transform="translate(209.4,1849.4) scale(1,1.05)" fill="#4A4A4A" font-size="30.5" text-anchor="end" >120</text>
<line x1="226.3" y1="1801.92" x2="233.2" y2="1801.92" stroke="#4A4A4A" stroke-width="2.4" />
<line x1="219.6" y1="1764.05" x2="233.2" y2="1764.05" stroke="#4A4A4A" stroke-width="2.4" />
<text transform="translate(209.4,1773.65) scale(1,1.05)" fill="#4A4A4A" font-size="30.5" text-anchor="end" >140</text>
<line x1="226.3" y1="1726.17" x2="233.2" y2="1726.17" stroke="#4A4A4A" stroke-width="2.4" />
<line x1="219.6" y1="1688.3" x2="233.2" y2="1688.3" stroke="#4A4A4A" stroke-width="2.4" />
<text transform="translate(209.4,1697.9) scale(1,1.05)" fill="#4A4A4A" font-size="30.5" text-anchor="end" >160</text>
<line x1="978.9" y1="1687.2" x2="978.9" y2="2295.4" stroke="#1A67DE" stroke-width="2.2" />
<line x1="978.9" y1="2294.3" x2="992.5" y2="2294.3" stroke="#1A67DE" stroke-width="2.2" />
<text transform="translate(1002.7,2303.9) scale(1,1.05)" fill="#1A67DE" font-size="30.5" text-anchor="start" >0.0</text>
<line x1="978.9" y1="2251.01" x2="985.8" y2="2251.01" stroke="#1A67DE" stroke-width="2.2" />
<line x1="978.9" y1="2207.73" x2="992.5" y2="2207.73" stroke="#1A67DE" stroke-width="2.2" />
<text transform="translate(1002.7,2217.33) scale(1,1.05)" fill="#1A67DE" font-size="30.5" text-anchor="start" >0.4</text>
<line x1="978.9" y1="2164.44" x2="985.8" y2="2164.44" stroke="#1A67DE" stroke-width="2.2" />
<line x1="978.9" y1="2121.16" x2="992.5" y2="2121.16" stroke="#1A67DE" stroke-width="2.2" />
<text transform="translate(1002.7,2130.76) scale(1,1.05)" fill="#1A67DE" font-size="30.5" text-anchor="start" >0.8</text>
<line x1="978.9" y1="2077.87" x2="985.8" y2="2077.87" stroke="#1A67DE" stroke-width="2.2" />
<line x1="978.9" y1="2034.59" x2="992.5" y2="2034.59" stroke="#1A67DE" stroke-width="2.2" />
<text transform="translate(1002.7,2044.19) scale(1,1.05)" fill="#1A67DE" font-size="30.5" text-anchor="start" >1.2</text>
<line x1="978.9" y1="1991.3" x2="985.8" y2="1991.3" stroke="#1A67DE" stroke-width="2.2" />
<line x1="978.9" y1="1948.01" x2="992.5" y2="1948.01" stroke="#1A67DE" stroke-width="2.2" />
<text transform="translate(1002.7,1957.61) scale(1,1.05)" fill="#1A67DE" font-size="30.5" text-anchor="start" >1.6</text>
<line x1="978.9" y1="1904.73" x2="985.8" y2="1904.73" stroke="#1A67DE" stroke-width="2.2" />
<line x1="978.9" y1="1861.44" x2="992.5" y2="1861.44" stroke="#1A67DE" stroke-width="2.2" />
<text transform="translate(1002.7,1871.04) scale(1,1.05)" fill="#1A67DE" font-size="30.5" text-anchor="start" >2.0</text>
<line x1="978.9" y1="1818.16" x2="985.8" y2="1818.16" stroke="#1A67DE" stroke-width="2.2" />
<line x1="978.9" y1="1774.87" x2="992.5" y2="1774.87" stroke="#1A67DE" stroke-width="2.2" />
<text transform="translate(1002.7,1784.47) scale(1,1.05)" fill="#1A67DE" font-size="30.5" text-anchor="start" >2.4</text>
<line x1="978.9" y1="1731.59" x2="985.8" y2="1731.59" stroke="#1A67DE" stroke-width="2.2" />
<line x1="978.9" y1="1688.3" x2="992.5" y2="1688.3" stroke="#1A67DE" stroke-width="2.2" />
<text transform="translate(1002.7,1697.9) scale(1,1.05)" fill="#1A67DE" font-size="30.5" text-anchor="start" >2.8</text>
<line x1="1090" y1="1687.3" x2="1090" y2="2295.3" stroke="#2BA55B" stroke-width="2" />
<line x1="1090" y1="2294.3" x2="1103.6" y2="2294.3" stroke="#2BA55B" stroke-width="2" />
<text transform="translate(1113.8,2303.9) scale(1,1.05)" fill="#2BA55B" font-size="30.5" text-anchor="start" >0</text>
<line x1="1090" y1="2264" x2="1096.9" y2="2264" stroke="#2BA55B" stroke-width="2" />
<line x1="1090" y1="2233.7" x2="1103.6" y2="2233.7" stroke="#2BA55B" stroke-width="2" />
<text transform="translate(1113.8,2243.3) scale(1,1.05)" fill="#2BA55B" font-size="30.5" text-anchor="start" >2</text>
<line x1="1090" y1="2203.4" x2="1096.9" y2="2203.4" stroke="#2BA55B" stroke-width="2" />
<line x1="1090" y1="2173.1" x2="1103.6" y2="2173.1" stroke="#2BA55B" stroke-width="2" />
<text transform="translate(1113.8,2182.7) scale(1,1.05)" fill="#2BA55B" font-size="30.5" text-anchor="start" >4</text>
<line x1="1090" y1="2142.8" x2="1096.9" y2="2142.8" stroke="#2BA55B" stroke-width="2" />
<line x1="1090" y1="2112.5" x2="1103.6" y2="2112.5" stroke="#2BA55B" stroke-width="2" />
<text transform="translate(1113.8,2122.1) scale(1,1.05)" fill="#2BA55B" font-size="30.5" text-anchor="start" >6</text>
<line x1="1090" y1="2082.2" x2="1096.9" y2="2082.2" stroke="#2BA55B" stroke-width="2" />
<line x1="1090" y1="2051.9" x2="1103.6" y2="2051.9" stroke="#2BA55B" stroke-width="2" />
<text transform="translate(1113.8,2061.5) scale(1,1.05)" fill="#2BA55B" font-size="30.5" text-anchor="start" >8</text>
<line x1="1090" y1="2021.6" x2="1096.9" y2="2021.6" stroke="#2BA55B" stroke-width="2" />
<line x1="1090" y1="1991.3" x2="1103.6" y2="1991.3" stroke="#2BA55B" stroke-width="2" />
<text transform="translate(1113.8,2000.9) scale(1,1.05)" fill="#2BA55B" font-size="30.5" text-anchor="start" >10</text>
<line x1="1090" y1="1961" x2="1096.9" y2="1961" stroke="#2BA55B" stroke-width="2" />
<line x1="1090" y1="1930.7" x2="1103.6" y2="1930.7" stroke="#2BA55B" stroke-width="2" />
<text transform="translate(1113.8,1940.3) scale(1,1.05)" fill="#2BA55B" font-size="30.5" text-anchor="start" >12</text>
<line x1="1090" y1="1900.4" x2="1096.9" y2="1900.4" stroke="#2BA55B" stroke-width="2" />
<line x1="1090" y1="1870.1" x2="1103.6" y2="1870.1" stroke="#2BA55B" stroke-width="2" />
<text transform="translate(1113.8,1879.7) scale(1,1.05)" fill="#2BA55B" font-size="30.5" text-anchor="start" >14</text>
<line x1="1090" y1="1839.8" x2="1096.9" y2="1839.8" stroke="#2BA55B" stroke-width="2" />
<line x1="1090" y1="1809.5" x2="1103.6" y2="1809.5" stroke="#2BA55B" stroke-width="2" />
<text transform="translate(1113.8,1819.1) scale(1,1.05)" fill="#2BA55B" font-size="30.5" text-anchor="start" >16</text>
<line x1="1090" y1="1779.2" x2="1096.9" y2="1779.2" stroke="#2BA55B" stroke-width="2" />
<line x1="1090" y1="1748.9" x2="1103.6" y2="1748.9" stroke="#2BA55B" stroke-width="2" />
<text transform="translate(1113.8,1758.5) scale(1,1.05)" fill="#2BA55B" font-size="30.5" text-anchor="start" >18</text>
<line x1="1090" y1="1718.6" x2="1096.9" y2="1718.6" stroke="#2BA55B" stroke-width="2" />
<line x1="1090" y1="1688.3" x2="1103.6" y2="1688.3" stroke="#2BA55B" stroke-width="2" />
<text transform="translate(1113.8,1697.9) scale(1,1.05)" fill="#2BA55B" font-size="30.5" text-anchor="start" >20</text>
<line x1="1186.8" y1="1687.25" x2="1186.8" y2="2295.35" stroke="#0B7D7F" stroke-width="2.1" />
<line x1="1186.8" y1="2294.3" x2="1200.4" y2="2294.3" stroke="#0B7D7F" stroke-width="2.1" />
<text transform="translate(1210.6,2303.9) scale(1,1.05)" fill="#0B7D7F" font-size="30.5" text-anchor="start" >1E-8</text>
<line x1="1186.8" y1="2277.72" x2="1193.7" y2="2277.72" stroke="#0B7D7F" stroke-width="1.6800000000000002" />
<line x1="1186.8" y1="2268.01" x2="1193.7" y2="2268.01" stroke="#0B7D7F" stroke-width="1.6800000000000002" />
<line x1="1186.8" y1="2261.13" x2="1193.7" y2="2261.13" stroke="#0B7D7F" stroke-width="1.6800000000000002" />
<line x1="1186.8" y1="2255.79" x2="1193.7" y2="2255.79" stroke="#0B7D7F" stroke-width="1.6800000000000002" />
<line x1="1186.8" y1="2251.43" x2="1193.7" y2="2251.43" stroke="#0B7D7F" stroke-width="1.6800000000000002" />
<line x1="1186.8" y1="2247.74" x2="1193.7" y2="2247.74" stroke="#0B7D7F" stroke-width="1.6800000000000002" />
<line x1="1186.8" y1="2244.55" x2="1193.7" y2="2244.55" stroke="#0B7D7F" stroke-width="1.6800000000000002" />
<line x1="1186.8" y1="2241.73" x2="1193.7" y2="2241.73" stroke="#0B7D7F" stroke-width="1.6800000000000002" />
<line x1="1186.8" y1="2239.21" x2="1200.4" y2="2239.21" stroke="#0B7D7F" stroke-width="2.1" />
<text transform="translate(1210.6,2248.81) scale(1,1.05)" fill="#0B7D7F" font-size="30.5" text-anchor="start" >1E-7</text>
<line x1="1186.8" y1="2222.63" x2="1193.7" y2="2222.63" stroke="#0B7D7F" stroke-width="1.6800000000000002" />
<line x1="1186.8" y1="2212.92" x2="1193.7" y2="2212.92" stroke="#0B7D7F" stroke-width="1.6800000000000002" />
<line x1="1186.8" y1="2206.04" x2="1193.7" y2="2206.04" stroke="#0B7D7F" stroke-width="1.6800000000000002" />
<line x1="1186.8" y1="2200.7" x2="1193.7" y2="2200.7" stroke="#0B7D7F" stroke-width="1.6800000000000002" />
<line x1="1186.8" y1="2196.34" x2="1193.7" y2="2196.34" stroke="#0B7D7F" stroke-width="1.6800000000000002" />
<line x1="1186.8" y1="2192.65" x2="1193.7" y2="2192.65" stroke="#0B7D7F" stroke-width="1.6800000000000002" />
<line x1="1186.8" y1="2189.46" x2="1193.7" y2="2189.46" stroke="#0B7D7F" stroke-width="1.6800000000000002" />
<line x1="1186.8" y1="2186.64" x2="1193.7" y2="2186.64" stroke="#0B7D7F" stroke-width="1.6800000000000002" />
<line x1="1186.8" y1="2184.12" x2="1200.4" y2="2184.12" stroke="#0B7D7F" stroke-width="2.1" />
<text transform="translate(1210.6,2193.72) scale(1,1.05)" fill="#0B7D7F" font-size="30.5" text-anchor="start" >1E-6</text>
<line x1="1186.8" y1="2167.53" x2="1193.7" y2="2167.53" stroke="#0B7D7F" stroke-width="1.6800000000000002" />
<line x1="1186.8" y1="2157.83" x2="1193.7" y2="2157.83" stroke="#0B7D7F" stroke-width="1.6800000000000002" />
<line x1="1186.8" y1="2150.95" x2="1193.7" y2="2150.95" stroke="#0B7D7F" stroke-width="1.6800000000000002" />
<line x1="1186.8" y1="2145.61" x2="1193.7" y2="2145.61" stroke="#0B7D7F" stroke-width="1.6800000000000002" />
<line x1="1186.8" y1="2141.25" x2="1193.7" y2="2141.25" stroke="#0B7D7F" stroke-width="1.6800000000000002" />
<line x1="1186.8" y1="2137.56" x2="1193.7" y2="2137.56" stroke="#0B7D7F" stroke-width="1.6800000000000002" />
<line x1="1186.8" y1="2134.37" x2="1193.7" y2="2134.37" stroke="#0B7D7F" stroke-width="1.6800000000000002" />
<line x1="1186.8" y1="2131.55" x2="1193.7" y2="2131.55" stroke="#0B7D7F" stroke-width="1.6800000000000002" />
<line x1="1186.8" y1="2129.03" x2="1200.4" y2="2129.03" stroke="#0B7D7F" stroke-width="2.1" />
<text transform="translate(1210.6,2138.63) scale(1,1.05)" fill="#0B7D7F" font-size="30.5" text-anchor="start" >1E-5</text>
<line x1="1186.8" y1="2112.44" x2="1193.7" y2="2112.44" stroke="#0B7D7F" stroke-width="1.6800000000000002" />
<line x1="1186.8" y1="2102.74" x2="1193.7" y2="2102.74" stroke="#0B7D7F" stroke-width="1.6800000000000002" />
<line x1="1186.8" y1="2095.86" x2="1193.7" y2="2095.86" stroke="#0B7D7F" stroke-width="1.6800000000000002" />
<line x1="1186.8" y1="2090.52" x2="1193.7" y2="2090.52" stroke="#0B7D7F" stroke-width="1.6800000000000002" />
<line x1="1186.8" y1="2086.16" x2="1193.7" y2="2086.16" stroke="#0B7D7F" stroke-width="1.6800000000000002" />
<line x1="1186.8" y1="2082.47" x2="1193.7" y2="2082.47" stroke="#0B7D7F" stroke-width="1.6800000000000002" />
<line x1="1186.8" y1="2079.28" x2="1193.7" y2="2079.28" stroke="#0B7D7F" stroke-width="1.6800000000000002" />
<line x1="1186.8" y1="2076.46" x2="1193.7" y2="2076.46" stroke="#0B7D7F" stroke-width="1.6800000000000002" />
<line x1="1186.8" y1="2073.94" x2="1200.4" y2="2073.94" stroke="#0B7D7F" stroke-width="2.1" />
<text transform="translate(1210.6,2083.54) scale(1,1.05)" fill="#0B7D7F" font-size="30.5" text-anchor="start" >1E-4</text>
<line x1="1186.8" y1="2057.35" x2="1193.7" y2="2057.35" stroke="#0B7D7F" stroke-width="1.6800000000000002" />
<line x1="1186.8" y1="2047.65" x2="1193.7" y2="2047.65" stroke="#0B7D7F" stroke-width="1.6800000000000002" />
<line x1="1186.8" y1="2040.77" x2="1193.7" y2="2040.77" stroke="#0B7D7F" stroke-width="1.6800000000000002" />
<line x1="1186.8" y1="2035.43" x2="1193.7" y2="2035.43" stroke="#0B7D7F" stroke-width="1.6800000000000002" />
<line x1="1186.8" y1="2031.07" x2="1193.7" y2="2031.07" stroke="#0B7D7F" stroke-width="1.6800000000000002" />
<line x1="1186.8" y1="2027.38" x2="1193.7" y2="2027.38" stroke="#0B7D7F" stroke-width="1.6800000000000002" />
<line x1="1186.8" y1="2024.18" x2="1193.7" y2="2024.18" stroke="#0B7D7F" stroke-width="1.6800000000000002" />
<line x1="1186.8" y1="2021.37" x2="1193.7" y2="2021.37" stroke="#0B7D7F" stroke-width="1.6800000000000002" />
<line x1="1186.8" y1="2018.85" x2="1200.4" y2="2018.85" stroke="#0B7D7F" stroke-width="2.1" />
<text transform="translate(1210.6,2028.45) scale(1,1.05)" fill="#0B7D7F" font-size="30.5" text-anchor="start" >0.001</text>
<line x1="1186.8" y1="2002.26" x2="1193.7" y2="2002.26" stroke="#0B7D7F" stroke-width="1.6800000000000002" />
<line x1="1186.8" y1="1992.56" x2="1193.7" y2="1992.56" stroke="#0B7D7F" stroke-width="1.6800000000000002" />
<line x1="1186.8" y1="1985.68" x2="1193.7" y2="1985.68" stroke="#0B7D7F" stroke-width="1.6800000000000002" />
<line x1="1186.8" y1="1980.34" x2="1193.7" y2="1980.34" stroke="#0B7D7F" stroke-width="1.6800000000000002" />
<line x1="1186.8" y1="1975.98" x2="1193.7" y2="1975.98" stroke="#0B7D7F" stroke-width="1.6800000000000002" />
<line x1="1186.8" y1="1972.29" x2="1193.7" y2="1972.29" stroke="#0B7D7F" stroke-width="1.6800000000000002" />
<line x1="1186.8" y1="1969.09" x2="1193.7" y2="1969.09" stroke="#0B7D7F" stroke-width="1.6800000000000002" />
<line x1="1186.8" y1="1966.28" x2="1193.7" y2="1966.28" stroke="#0B7D7F" stroke-width="1.6800000000000002" />
<line x1="1186.8" y1="1963.75" x2="1200.4" y2="1963.75" stroke="#0B7D7F" stroke-width="2.1" />
<text transform="translate(1210.6,1973.35) scale(1,1.05)" fill="#0B7D7F" font-size="30.5" text-anchor="start" >0.01</text>
<line x1="1186.8" y1="1947.17" x2="1193.7" y2="1947.17" stroke="#0B7D7F" stroke-width="1.6800000000000002" />
<line x1="1186.8" y1="1937.47" x2="1193.7" y2="1937.47" stroke="#0B7D7F" stroke-width="1.6800000000000002" />
<line x1="1186.8" y1="1930.59" x2="1193.7" y2="1930.59" stroke="#0B7D7F" stroke-width="1.6800000000000002" />
<line x1="1186.8" y1="1925.25" x2="1193.7" y2="1925.25" stroke="#0B7D7F" stroke-width="1.6800000000000002" />
<line x1="1186.8" y1="1920.89" x2="1193.7" y2="1920.89" stroke="#0B7D7F" stroke-width="1.6800000000000002" />
<line x1="1186.8" y1="1917.2" x2="1193.7" y2="1917.2" stroke="#0B7D7F" stroke-width="1.6800000000000002" />
<line x1="1186.8" y1="1914" x2="1193.7" y2="1914" stroke="#0B7D7F" stroke-width="1.6800000000000002" />
<line x1="1186.8" y1="1911.18" x2="1193.7" y2="1911.18" stroke="#0B7D7F" stroke-width="1.6800000000000002" />
<line x1="1186.8" y1="1908.66" x2="1200.4" y2="1908.66" stroke="#0B7D7F" stroke-width="2.1" />
<text transform="translate(1210.6,1918.26) scale(1,1.05)" fill="#0B7D7F" font-size="30.5" text-anchor="start" >0.1</text>
<line x1="1186.8" y1="1892.08" x2="1193.7" y2="1892.08" stroke="#0B7D7F" stroke-width="1.6800000000000002" />
<line x1="1186.8" y1="1882.38" x2="1193.7" y2="1882.38" stroke="#0B7D7F" stroke-width="1.6800000000000002" />
<line x1="1186.8" y1="1875.5" x2="1193.7" y2="1875.5" stroke="#0B7D7F" stroke-width="1.6800000000000002" />
<line x1="1186.8" y1="1870.16" x2="1193.7" y2="1870.16" stroke="#0B7D7F" stroke-width="1.6800000000000002" />
<line x1="1186.8" y1="1865.79" x2="1193.7" y2="1865.79" stroke="#0B7D7F" stroke-width="1.6800000000000002" />
<line x1="1186.8" y1="1862.11" x2="1193.7" y2="1862.11" stroke="#0B7D7F" stroke-width="1.6800000000000002" />
<line x1="1186.8" y1="1858.91" x2="1193.7" y2="1858.91" stroke="#0B7D7F" stroke-width="1.6800000000000002" />
<line x1="1186.8" y1="1856.09" x2="1193.7" y2="1856.09" stroke="#0B7D7F" stroke-width="1.6800000000000002" />
<line x1="1186.8" y1="1853.57" x2="1200.4" y2="1853.57" stroke="#0B7D7F" stroke-width="2.1" />
<text transform="translate(1210.6,1863.17) scale(1,1.05)" fill="#0B7D7F" font-size="30.5" text-anchor="start" >1</text>
<line x1="1186.8" y1="1836.99" x2="1193.7" y2="1836.99" stroke="#0B7D7F" stroke-width="1.6800000000000002" />
<line x1="1186.8" y1="1827.29" x2="1193.7" y2="1827.29" stroke="#0B7D7F" stroke-width="1.6800000000000002" />
<line x1="1186.8" y1="1820.4" x2="1193.7" y2="1820.4" stroke="#0B7D7F" stroke-width="1.6800000000000002" />
<line x1="1186.8" y1="1815.07" x2="1193.7" y2="1815.07" stroke="#0B7D7F" stroke-width="1.6800000000000002" />
<line x1="1186.8" y1="1810.7" x2="1193.7" y2="1810.7" stroke="#0B7D7F" stroke-width="1.6800000000000002" />
<line x1="1186.8" y1="1807.02" x2="1193.7" y2="1807.02" stroke="#0B7D7F" stroke-width="1.6800000000000002" />
<line x1="1186.8" y1="1803.82" x2="1193.7" y2="1803.82" stroke="#0B7D7F" stroke-width="1.6800000000000002" />
<line x1="1186.8" y1="1801" x2="1193.7" y2="1801" stroke="#0B7D7F" stroke-width="1.6800000000000002" />
<line x1="1186.8" y1="1798.48" x2="1200.4" y2="1798.48" stroke="#0B7D7F" stroke-width="2.1" />
<text transform="translate(1210.6,1808.08) scale(1,1.05)" fill="#0B7D7F" font-size="30.5" text-anchor="start" >10</text>
<line x1="1186.8" y1="1781.9" x2="1193.7" y2="1781.9" stroke="#0B7D7F" stroke-width="1.6800000000000002" />
<line x1="1186.8" y1="1772.2" x2="1193.7" y2="1772.2" stroke="#0B7D7F" stroke-width="1.6800000000000002" />
<line x1="1186.8" y1="1765.31" x2="1193.7" y2="1765.31" stroke="#0B7D7F" stroke-width="1.6800000000000002" />
<line x1="1186.8" y1="1759.97" x2="1193.7" y2="1759.97" stroke="#0B7D7F" stroke-width="1.6800000000000002" />
<line x1="1186.8" y1="1755.61" x2="1193.7" y2="1755.61" stroke="#0B7D7F" stroke-width="1.6800000000000002" />
<line x1="1186.8" y1="1751.92" x2="1193.7" y2="1751.92" stroke="#0B7D7F" stroke-width="1.6800000000000002" />
<line x1="1186.8" y1="1748.73" x2="1193.7" y2="1748.73" stroke="#0B7D7F" stroke-width="1.6800000000000002" />
<line x1="1186.8" y1="1745.91" x2="1193.7" y2="1745.91" stroke="#0B7D7F" stroke-width="1.6800000000000002" />
<line x1="1186.8" y1="1743.39" x2="1200.4" y2="1743.39" stroke="#0B7D7F" stroke-width="2.1" />
<text transform="translate(1210.6,1752.99) scale(1,1.05)" fill="#0B7D7F" font-size="30.5" text-anchor="start" >100</text>
<line x1="1186.8" y1="1726.81" x2="1193.7" y2="1726.81" stroke="#0B7D7F" stroke-width="1.6800000000000002" />
<line x1="1186.8" y1="1717.11" x2="1193.7" y2="1717.11" stroke="#0B7D7F" stroke-width="1.6800000000000002" />
<line x1="1186.8" y1="1710.22" x2="1193.7" y2="1710.22" stroke="#0B7D7F" stroke-width="1.6800000000000002" />
<line x1="1186.8" y1="1704.88" x2="1193.7" y2="1704.88" stroke="#0B7D7F" stroke-width="1.6800000000000002" />
<line x1="1186.8" y1="1700.52" x2="1193.7" y2="1700.52" stroke="#0B7D7F" stroke-width="1.6800000000000002" />
<line x1="1186.8" y1="1696.83" x2="1193.7" y2="1696.83" stroke="#0B7D7F" stroke-width="1.6800000000000002" />
<line x1="1186.8" y1="1693.64" x2="1193.7" y2="1693.64" stroke="#0B7D7F" stroke-width="1.6800000000000002" />
<line x1="1186.8" y1="1690.82" x2="1193.7" y2="1690.82" stroke="#0B7D7F" stroke-width="1.6800000000000002" />
<line x1="1186.8" y1="1688.3" x2="1200.4" y2="1688.3" stroke="#0B7D7F" stroke-width="2.1" />
<text transform="translate(1210.6,1697.9) scale(1,1.05)" fill="#0B7D7F" font-size="30.5" text-anchor="start" >1000</text>
<line x1="233.2" y1="2294.3" x2="978.9" y2="2294.3" stroke="#000" stroke-width="2.2" />
<line x1="233.2" y1="2293.2" x2="233.2" y2="2307.9" stroke="#000" stroke-width="2.2" />
<text transform="translate(233.2,2342.9) scale(1,1.05)" fill="#000" font-size="30.5" text-anchor="middle" >0</text>
<line x1="279.81" y1="2293.2" x2="279.81" y2="2301.5" stroke="#000" stroke-width="2.2" />
<line x1="326.41" y1="2293.2" x2="326.41" y2="2307.9" stroke="#000" stroke-width="2.2" />
<text transform="translate(326.41,2342.9) scale(1,1.05)" fill="#000" font-size="30.5" text-anchor="middle" >200</text>
<line x1="373.02" y1="2293.2" x2="373.02" y2="2301.5" stroke="#000" stroke-width="2.2" />
<line x1="419.62" y1="2293.2" x2="419.62" y2="2307.9" stroke="#000" stroke-width="2.2" />
<text transform="translate(419.62,2342.9) scale(1,1.05)" fill="#000" font-size="30.5" text-anchor="middle" >400</text>
<line x1="466.23" y1="2293.2" x2="466.23" y2="2301.5" stroke="#000" stroke-width="2.2" />
<line x1="512.84" y1="2293.2" x2="512.84" y2="2307.9" stroke="#000" stroke-width="2.2" />
<text transform="translate(512.84,2342.9) scale(1,1.05)" fill="#000" font-size="30.5" text-anchor="middle" >600</text>
<line x1="559.44" y1="2293.2" x2="559.44" y2="2301.5" stroke="#000" stroke-width="2.2" />
<line x1="606.05" y1="2293.2" x2="606.05" y2="2307.9" stroke="#000" stroke-width="2.2" />
<text transform="translate(606.05,2342.9) scale(1,1.05)" fill="#000" font-size="30.5" text-anchor="middle" >800</text>
<line x1="652.66" y1="2293.2" x2="652.66" y2="2301.5" stroke="#000" stroke-width="2.2" />
<line x1="699.26" y1="2293.2" x2="699.26" y2="2307.9" stroke="#000" stroke-width="2.2" />
<text transform="translate(699.26,2342.9) scale(1,1.05)" fill="#000" font-size="30.5" text-anchor="middle" >1000</text>
<line x1="745.87" y1="2293.2" x2="745.87" y2="2301.5" stroke="#000" stroke-width="2.2" />
<line x1="792.47" y1="2293.2" x2="792.47" y2="2307.9" stroke="#000" stroke-width="2.2" />
<text transform="translate(792.47,2342.9) scale(1,1.05)" fill="#000" font-size="30.5" text-anchor="middle" >1200</text>
<line x1="839.08" y1="2293.2" x2="839.08" y2="2301.5" stroke="#000" stroke-width="2.2" />
<line x1="885.69" y1="2293.2" x2="885.69" y2="2307.9" stroke="#000" stroke-width="2.2" />
<text transform="translate(885.69,2342.9) scale(1,1.05)" fill="#000" font-size="30.5" text-anchor="middle" >1400</text>
<line x1="932.29" y1="2293.2" x2="932.29" y2="2301.5" stroke="#000" stroke-width="2.2" />
<line x1="978.9" y1="2293.2" x2="978.9" y2="2307.9" stroke="#000" stroke-width="2.2" />
<text transform="translate(978.9,2342.9) scale(1,1.05)" fill="#000" font-size="30.5" text-anchor="middle" >1600</text>
<text transform="translate(38,1992.3) rotate(-90)" fill="#EC2F2F" font-size="38" text-anchor="middle" textLength="352.4" lengthAdjust="spacingAndGlyphs" >Normal stress <tspan font-style="italic">σ</tspan> (Mpa)</text>
<text transform="translate(152.4,1991.2) rotate(-90)" fill="#4A4A4A" font-size="38" text-anchor="middle" textLength="315" lengthAdjust="spacingAndGlyphs" >Shear stress <tspan font-style="italic">τ</tspan> (Mpa)</text>
<text transform="translate(1080.4,1991) rotate(-90)" fill="#1A67DE" font-size="38" text-anchor="middle" textLength="296.2" lengthAdjust="spacingAndGlyphs" >Friction coefficient</text>
<text transform="translate(1171.5,1991.25) rotate(-90)" fill="#2BA55B" font-size="38" text-anchor="middle" textLength="393.7" lengthAdjust="spacingAndGlyphs" >Shear displacement (mm)</text>
<text transform="translate(1311.6,1991.5) rotate(-90)" fill="#0B7D7F" font-size="38" text-anchor="middle" textLength="315.6" lengthAdjust="spacingAndGlyphs" >Slip velocity (mm/s)</text>
<text x="542.2" y="2402" fill="#000" font-size="37.7" text-anchor="start" >Time (s)</text>
<text x="589.7" y="2495" fill="#000" font-size="42.5"><tspan font-style="italic">σ</tspan><tspan font-size="29" dy="4.8">ct</tspan></text>
<text transform="translate(636.5,2495) scale(1.12,1)" fill="#000" font-size="42.5">=</text>
<text x="674" y="2495" fill="#000" font-size="42.5">40</text>
<text x="724.7" y="2495" fill="#000" font-size="42.5">MPa</text>
<text x="232" y="1680.6" fill="#000" font-size="23.3" text-anchor="start" >Stage I</text>
<text x="395.4" y="1684.5" fill="#000" font-size="23.3" text-anchor="start" >Stage II</text>
<text x="705.8" y="1684.4" fill="#000" font-size="23.3" text-anchor="start" >Stage III</text>
<line x1="291" y1="1688.5" x2="291" y2="2294.3" stroke="#F000F0" stroke-width="3.8" stroke-dasharray="18 16.6"/>
<line x1="551.8" y1="1688.5" x2="551.8" y2="2294.3" stroke="#F000F0" stroke-width="3.8" stroke-dasharray="18 16.6"/>
<polyline points="233.4,2294.2 238,2275.8 238.59,2273.87 239.19,2271.94 239.78,2270.02 240.37,2268.09 240.97,2266.16 241.56,2264.23 242.15,2262.31 242.75,2260.38 243.34,2258.45 243.93,2256.52 244.53,2254.6 245.12,2252.67 245.71,2250.74 246.31,2248.81 246.9,2246.89 247.49,2244.96 248.09,2243.03 248.68,2241.1 249.27,2239.18 249.87,2237.25 250.46,2235.32 251.05,2233.39 251.65,2231.47 252.24,2229.54 252.83,2227.61 253.43,2225.68 254.02,2223.76 254.61,2221.83 255.21,2219.9 255.8,2217.97 256.39,2216.04 256.99,2214.12 257.58,2212.19 258.17,2210.26 258.77,2208.33 259.36,2206.41 259.95,2204.48 260.55,2202.55 261.14,2200.62 261.73,2198.7 262.33,2196.77 262.92,2194.84 263.51,2192.91 264.11,2190.99 264.7,2189.06 265.29,2187.13 265.89,2185.2 266.48,2183.28 267.07,2181.35 267.67,2179.42 268.26,2177.49 268.85,2175.57 269.45,2173.64 270.04,2171.71 270.63,2169.78 271.23,2167.85 271.82,2165.93 272.41,2164 273.01,2162.07 273.6,2160.14 274.19,2158.22 274.79,2156.29 275.38,2154.36 275.97,2152.43 276.56,2150.51 277.16,2148.58 277.75,2146.65 278.33,2144.72 278.92,2142.79 279.51,2140.86 280.1,2138.93 280.69,2137 281.27,2135.07 281.86,2133.14 282.45,2131.21 283.04,2129.29 283.63,2127.36 284.23,2125.43 284.83,2123.51 285.44,2121.59 286.06,2119.67 286.7,2117.75 287.34,2115.84 287.98,2113.93 288.63,2112.02 289.29,2110.11 289.94,2108.21 290.6,2106.3 290.6,2106.3 291.98,2104.84 293.36,2103.38 294.72,2101.9 296.07,2100.41 297.4,2098.91 298.71,2097.39 300.01,2095.85 301.28,2094.3 302.54,2092.74 303.78,2091.16 305.01,2089.56 306.21,2087.96 307.41,2086.34 308.6,2084.72 309.77,2083.09 310.94,2081.45 312.09,2079.81 313.24,2078.16 314.38,2076.51 315.52,2074.85 316.65,2073.19 317.78,2071.52 318.9,2069.85 320.01,2068.18 321.12,2066.5 322.21,2064.82 323.29,2063.12 324.36,2061.42 325.41,2059.71 326.45,2057.99 327.48,2056.26 328.5,2054.53 329.5,2052.79 330.51,2051.05 331.51,2049.31 332.51,2047.56 333.51,2045.82 334.51,2044.07 335.51,2042.33 336.51,2040.58 337.51,2038.84 338.51,2037.1 339.51,2035.35 340.5,2033.61 341.5,2031.86 342.5,2030.12 343.5,2028.37 344.5,2026.63 345.5,2024.88 346.5,2023.14 347.5,2021.4 348.5,2019.65 349.5,2017.91 350.5,2016.16 351.5,2014.42 352.49,2012.67 353.49,2010.93 354.49,2009.19 355.49,2007.44 356.49,2005.7 357.49,2003.95 358.49,2002.21 359.49,2000.46 360.49,1998.72 361.49,1996.97 362.49,1995.23 363.49,1993.49 364.49,1991.74 365.49,1990 366.49,1988.26 367.49,1986.51 368.49,1984.77 369.49,1983.03 370.5,1981.29 371.5,1979.54 372.51,1977.8 373.51,1976.06 374.52,1974.32 375.52,1972.58 376.53,1970.84 377.53,1969.1 378.53,1967.36 379.54,1965.62 380.54,1963.87 381.55,1962.13 382.55,1960.39 383.56,1958.65 384.56,1956.91 385.57,1955.17 386.57,1953.43 387.58,1951.69 388.58,1949.94 389.59,1948.2 390.59,1946.46 391.6,1944.72 392.6,1942.98 393.6,1941.24 394.61,1939.5 395.61,1937.76 396.62,1936.01 397.62,1934.27 398.63,1932.53 399.63,1930.79 400.64,1929.05 401.64,1927.31 402.65,1925.57 403.65,1923.83 404.66,1922.09 405.66,1920.34 406.67,1918.6 407.67,1916.86 408.68,1915.12 409.68,1913.38 410.68,1911.64 411.69,1909.9 412.69,1908.15 413.69,1906.41 414.69,1904.67 415.69,1902.92 416.67,1901.17 417.66,1899.42 418.64,1897.66 419.61,1895.9 420.58,1894.14 421.54,1892.38 422.51,1890.61 423.47,1888.85 424.43,1887.08 425.39,1885.32 426.35,1883.55 427.32,1881.79 428.28,1880.02 429.24,1878.26 430.2,1876.49 431.16,1874.73 432.13,1872.96 433.09,1871.2 434.06,1869.44 435.04,1867.68 436.02,1865.93 437.01,1864.18 438.01,1862.44 439.03,1860.7 440.04,1858.97 441.07,1857.24 442.1,1855.51 443.13,1853.79 444.16,1852.06 445.2,1850.34 446.23,1848.61 447.27,1846.89 448.3,1845.17 449.34,1843.44 450.37,1841.72 451.41,1840 452.44,1838.27 453.48,1836.55 454.52,1834.83 455.56,1833.11 456.59,1831.39 457.63,1829.67 458.67,1827.95 459.71,1826.23 460.75,1824.51 461.79,1822.79 462.83,1821.07 463.88,1819.35 464.93,1817.64 465.99,1815.93 467.07,1814.24 468.17,1812.57 469.31,1810.92 470.48,1809.29 471.69,1807.7 472.94,1806.14 474.23,1804.6 475.53,1803.07 476.85,1801.56 478.18,1800.05 479.52,1798.55 480.85,1797.05 482.19,1795.55 483.53,1794.05 484.2,1793.3 485.3,1802.9 488.1,1797.3 551.7,1831.9 693.4,1840.3 833.8,1840.7 928.5,1845.4 930.8,1848.3" fill="none" stroke="#EC2F2F" stroke-width="3.3" stroke-linejoin="round" stroke-linecap="round" />
<polyline points="233.4,2294.2 234.8,2292.77 236.21,2291.34 237.61,2289.9 239.01,2288.47 240.41,2287.03 241.81,2285.59 243.2,2284.15 244.59,2282.7 245.97,2281.25 247.34,2279.79 248.71,2278.32 250.07,2276.84 251.41,2275.36 252.75,2273.87 254.09,2272.37 255.42,2270.87 256.74,2269.36 258.06,2267.85 259.38,2266.34 260.69,2264.83 262,2263.31 263.31,2261.79 264.61,2260.27 265.91,2258.74 267.2,2257.2 268.47,2255.65 269.74,2254.1 270.99,2252.54 272.24,2250.97 273.48,2249.39 274.7,2247.8 275.92,2246.21 277.14,2244.62 278.35,2243.02 279.56,2241.42 280.77,2239.82 281.98,2238.22 283.19,2236.62 284.39,2235.01 285.59,2233.41 286.79,2231.8 287.99,2230.19 289.18,2228.58 290.37,2226.96 291.56,2225.35 292.74,2223.72 293.92,2222.1 295.09,2220.48 296.26,2218.85 297.43,2217.22 298.59,2215.58 299.75,2213.95 300.9,2212.31 302.05,2210.66 303.19,2209.01 304.33,2207.36 305.46,2205.71 306.58,2204.04 307.7,2202.38 308.82,2200.71 309.92,2199.04 311.02,2197.36 312.11,2195.68 313.19,2193.99 314.26,2192.3 315.32,2190.59 316.36,2188.88 317.39,2187.16 318.4,2185.43 319.4,2183.7 320.39,2181.95 321.37,2180.21 322.35,2178.45 323.32,2176.7 324.29,2174.94 325.26,2173.19 326.23,2171.43 327.19,2169.67 328.16,2167.91 329.12,2166.16 330.09,2164.4 331.05,2162.64 332.02,2160.88 332.98,2159.12 333.95,2157.36 334.91,2155.6 335.87,2153.84 336.83,2152.08 337.79,2150.32 338.75,2148.56 339.7,2146.8 340.66,2145.03 341.62,2143.27 342.57,2141.51 343.53,2139.74 344.48,2137.98 345.43,2136.22 346.39,2134.45 347.34,2132.69 348.3,2130.92 349.25,2129.16 350.2,2127.39 351.16,2125.63 352.11,2123.87 353.07,2122.1 354.02,2120.34 354.97,2118.57 355.93,2116.81 356.89,2115.05 357.84,2113.28 358.8,2111.52 359.77,2109.76 360.73,2108.01 361.7,2106.25 362.67,2104.49 363.64,2102.74 364.62,2100.99 365.59,2099.23 366.57,2097.48 367.55,2095.73 368.53,2093.98 369.51,2092.24 370.5,2090.49 371.48,2088.74 372.46,2086.99 373.44,2085.24 374.42,2083.49 375.41,2081.74 376.39,2079.99 377.37,2078.25 378.35,2076.5 379.33,2074.75 380.32,2073 381.3,2071.25 382.28,2069.5 383.26,2067.75 384.24,2066 385.21,2064.25 386.19,2062.49 387.16,2060.74 388.13,2058.99 389.1,2057.23 390.06,2055.47 391.03,2053.71 391.99,2051.95 392.95,2050.19 393.91,2048.43 394.86,2046.67 395.82,2044.9 396.78,2043.14 397.73,2041.38 398.69,2039.62 399.65,2037.85 400.6,2036.09 401.56,2034.33 402.52,2032.56 403.47,2030.8 404.43,2029.04 405.39,2027.28 406.35,2025.51 407.3,2023.75 408.26,2021.99 409.22,2020.22 410.17,2018.46 411.13,2016.7 412.09,2014.94 413.04,2013.17 414,2011.41 414.96,2009.65 415.91,2007.89 416.87,2006.12 417.83,2004.36 418.79,2002.6 419.75,2000.84 420.7,1999.08 421.66,1997.31 422.62,1995.55 423.58,1993.79 424.54,1992.03 425.5,1990.27 426.46,1988.51 427.42,1986.75 428.38,1984.98 429.34,1983.22 430.3,1981.46 431.26,1979.7 432.22,1977.94 433.18,1976.18 434.14,1974.42 435.1,1972.66 436.06,1970.89 437.01,1969.13 437.97,1967.37 438.93,1965.61 439.89,1963.85 440.85,1962.09 441.81,1960.33 442.78,1958.57 443.74,1956.81 444.7,1955.05 445.67,1953.29 446.64,1951.54 447.62,1949.79 448.61,1948.04 449.6,1946.3 450.6,1944.56 451.61,1942.83 452.63,1941.1 453.65,1939.38 454.68,1937.66 455.72,1935.94 456.76,1934.23 457.8,1932.51 458.85,1930.81 459.91,1929.1 460.97,1927.4 462.05,1925.71 463.14,1924.03 464.24,1922.36 465.37,1920.71 466.51,1919.06 467.67,1917.43 468.85,1915.82 470.05,1914.21 471.26,1912.61 472.48,1911.02 473.7,1909.43 474.93,1907.85 476.16,1906.27 477.4,1904.68 478.63,1903.11 479.87,1901.53 481.11,1899.95 482.34,1898.37 483.58,1896.79 484.2,1896 485.3,1906.3 488.1,1900.6 551.7,1937.8 930.3,1937.8" fill="none" stroke="#4A4A4A" stroke-width="3.3" stroke-linejoin="round" stroke-linecap="round" />
<polyline points="291,2231.7 292.43,2230.28 293.87,2228.86 295.31,2227.45 296.75,2226.05 298.22,2224.66 299.69,2223.29 301.18,2221.93 302.68,2220.58 304.2,2219.25 305.73,2217.94 307.27,2216.63 308.82,2215.35 310.38,2214.08 311.96,2212.82 313.55,2211.58 315.15,2210.36 316.77,2209.15 318.4,2207.96 320.03,2206.78 321.68,2205.63 323.35,2204.48 325.02,2203.36 326.7,2202.25 328.39,2201.15 330.1,2200.08 331.81,2199.02 333.54,2197.97 335.27,2196.95 337.02,2195.94 338.77,2194.94 340.54,2193.97 342.31,2193.01 344.09,2192.06 345.88,2191.14 347.68,2190.23 349.49,2189.33 351.31,2188.45 353.13,2187.59 354.96,2186.75 356.8,2185.92 358.64,2185.1 360.49,2184.31 362.35,2183.52 364.22,2182.76 366.09,2182 367.96,2181.26 369.84,2180.54 371.73,2179.83 373.63,2179.14 375.52,2178.46 377.43,2177.79 379.33,2177.14 381.25,2176.5 383.16,2175.87 385.08,2175.26 387.01,2174.65 388.94,2174.07 390.87,2173.49 392.81,2172.93 394.75,2172.38 396.69,2171.84 398.63,2171.31 400.58,2170.79 402.54,2170.29 404.49,2169.79 406.45,2169.3 408.41,2168.83 410.37,2168.37 412.33,2167.91 414.3,2167.47 416.27,2167.03 418.24,2166.61 420.21,2166.19 422.19,2165.78 424.17,2165.38 426.14,2164.99 428.12,2164.61 430.11,2164.24 432.09,2163.87 434.07,2163.52 436.06,2163.17 438.05,2162.82 440.03,2162.49 442.02,2162.16 444.01,2161.83 446.01,2161.52 448,2161.21 449.99,2160.91 451.99,2160.61 453.98,2160.32 455.98,2160.04 457.98,2159.76 459.98,2159.49 461.97,2159.22 463.97,2158.96 465.97,2158.7 467.97,2158.45 469.98,2158.2 471.98,2157.96 473.98,2157.73 475.98,2157.49 477.99,2157.27 479.99,2157.04 482,2156.82 484,2156.6 484,2156.6 552.1,2160.7 850,2158.3 931.3,2157.1" fill="none" stroke="#1A67DE" stroke-width="3.2" stroke-linejoin="round" stroke-linecap="round" />
<polyline points="233.4,2294.2 234.43,2292.48 235.52,2290.79 236.67,2289.14 237.9,2287.56 239.22,2286.05 240.63,2284.62 242.12,2283.28 243.69,2282.03 245.33,2280.89 247.05,2279.84 248.82,2278.9 250.63,2278.04 252.49,2277.28 254.37,2276.58 256.28,2275.95 258.2,2275.38 260.14,2274.86 262.1,2274.39 264.06,2273.96 266.03,2273.55 268,2273.17 269.98,2272.81 271.96,2272.46 273.94,2272.12 275.92,2271.8 277.91,2271.49 279.9,2271.19 281.89,2270.89 283.87,2270.61 285.86,2270.32 287.85,2270.04 289.85,2269.76 291.84,2269.48 293.83,2269.21 295.82,2268.93 297.81,2268.66 299.8,2268.39 301.79,2268.12 303.79,2267.85 305.78,2267.59 307.77,2267.32 309.76,2267.06 311.76,2266.79 313.75,2266.52 315.74,2266.26 317.73,2265.99 319.73,2265.73 321.72,2265.46 323.71,2265.2 325.7,2264.93 327.7,2264.66 329.69,2264.4 331.68,2264.13 333.67,2263.87 335.67,2263.6 337.66,2263.34 339.65,2263.07 341.64,2262.8 343.64,2262.54 345.63,2262.27 347.62,2262.01 349.61,2261.74 351.61,2261.48 353.6,2261.21 355.59,2260.95 357.58,2260.68 359.58,2260.42 361.57,2260.15 363.56,2259.89 365.56,2259.62 367.55,2259.36 369.54,2259.09 371.53,2258.83 373.53,2258.56 375.52,2258.3 377.51,2258.03 379.5,2257.77 381.5,2257.5 383.49,2257.24 385.48,2256.97 387.47,2256.71 389.47,2256.44 391.46,2256.18 393.45,2255.91 395.44,2255.65 397.44,2255.38 399.43,2255.12 401.42,2254.85 403.41,2254.59 405.41,2254.32 407.4,2254.06 409.39,2253.79 411.39,2253.53 413.38,2253.26 415.37,2253 417.36,2252.73 419.36,2252.47 421.35,2252.2 423.34,2251.94 425.33,2251.67 427.33,2251.41 429.32,2251.14 431.31,2250.88 433.3,2250.61 435.3,2250.35 437.29,2250.08 439.28,2249.82 441.27,2249.55 443.27,2249.29 445.26,2249.02 447.25,2248.76 449.24,2248.49 451.24,2248.23 453.23,2247.96 455.22,2247.7 457.22,2247.43 459.21,2247.17 461.2,2246.9 463.19,2246.64 465.19,2246.37 467.18,2246.1 469.17,2245.84 471.16,2245.57 473.16,2245.31 475.15,2245.04 477.14,2244.78 479.13,2244.51 481.13,2244.25 483.12,2243.98 485.11,2243.72 487.1,2243.45 488.1,2243.32 552.1,2245.5 900,2245.4 901.87,2244.59 903.74,2243.78 905.61,2242.98 907.48,2242.17 909.34,2241.35 911.17,2240.48 912.91,2239.46 914.54,2238.27 916.12,2236.99 917.69,2235.69 919.25,2234.39 920.75,2233.04 921.99,2231.54 922.82,2229.79 923.37,2227.86 923.83,2225.88 924.28,2223.89 924.74,2221.91 925.19,2219.92 925.64,2217.94 926.09,2215.95 926.53,2213.96 926.96,2211.97 927.36,2209.98 927.76,2207.98 928.15,2205.98 928.55,2203.98 928.95,2201.99 929.34,2199.99 929.7,2197.99 929.96,2195.97 930.11,2193.95 930.21,2191.91 930.3,2189.88 930.39,2187.84 930.48,2185.81 930.58,2183.78 930.67,2181.74 930.76,2179.71 930.85,2177.67 930.94,2175.64 931.03,2173.6 931.12,2171.57 931.21,2169.53 931.3,2167.5 931.3,2167.5" fill="none" stroke="#2BA55B" stroke-width="3.2" stroke-linejoin="round" stroke-linecap="round" />
<polyline points="552,2102 553,2062 554,2039.82 556.26,2085.85 558.64,2037.28 560.16,2111.77 561.98,2074.06 564.14,2111.71 566.54,2038.24 568.3,2137 571.02,2048.64 573.55,2136.68 575.88,2041.31 577.42,2113.21 579.93,2066.6 582.43,2116.04 585.05,2045.68 587.86,2122.99 589.3,2192.4 592.15,2045.39 594.53,2081.57 596.57,2042.67 598.89,2098.25 601.34,2069.71 604.04,2119.55 605.77,2065.51 608.62,2115.21 611.12,2039.27 613.78,2097.65 615.37,2065.11 618.26,2066.7 620.33,2038.24 622.25,2108.19 623.81,2052.55 625.37,2105.53 628.1,2073.06 630.31,2119.93 631.92,2051.88 633.46,2074.75 635.82,2038.32 637.38,2113.32 640.22,2067.69 642.25,2091.22 644.65,2051.7 646.93,2100.22 649.14,2045.22 651.65,2077.47 654.52,2048.56 656.79,2059.49 659.1,2037.03 661.46,2133.8 663.61,2055.62 665.61,2104.92 667.14,2037.24 669.58,2118.17 671.72,2051.57 673.67,2085.48 675.69,2051.7 677.61,2086.28 679.15,2050.55 681.68,2082.14 684.3,2039.83 686.06,2089.75 687.71,2041.86 689.67,2111.56 690,2153.5 691.74,2042.26 694.15,2114.2 695.96,2037.83 698.2,2074.29 700.88,2038.77 702.77,2110.2 705.4,2042.51 707.08,2081 708.96,2042.54 711.04,2088.83 713.83,2038.32 715.34,2117.16 718.22,2045.33 721.05,2116.36 723.59,2064.1 726.02,2094.59 728,2039.6 729.59,2098.49 732.23,2037.14 734.99,2104.21 737.75,2067.88 740.06,2059.7 741.8,2041.27 744.22,2094.92 747.04,2052.44 749.02,2078.45 751.18,2061.01 753.18,2074.74 755.82,2038.56 758.43,2116.07 761.08,2037.01 763.3,2208.8 766.01,2037.17 767.89,2079.5 769.98,2046.7 772.57,2122.79 774.24,2037.3 777.11,2131.05 779.05,2041.66 781.04,2101.69 783.05,2038.9 785.01,2069.45 785.7,2165.5 787.73,2037.4 789.48,2086.05 792.08,2043.55 794.7,2100.38 796.72,2047.58 799.21,2088.88 801.35,2039.97 803.6,2129.35 805.7,2066.65 808.51,2086.11 811.11,2040.36 813.26,2069.4 815.69,2067.12 817.7,2168.5 820.13,2058.39 822.42,2067.86 823.93,2038.13 826.51,2122.18 829.25,2038.69 830.78,2111.97 833.46,2055.34 836.13,2117.62 838,2137 839.55,2060.19 841.77,2105.36 844.32,2070.07 845.9,2083.03 848.56,2039.91 850.31,2078.28 852.87,2043.98 854.88,2087.46 856.97,2037.43 859.17,2118.65 861.71,2038.39 862,2135.6 864.56,2055.35 866.78,2092.57 869.54,2038.22 871.17,2107.11 873.4,2045.63 875.9,2073.97 877.68,2051.26 878.3,2150.8 880.13,2056.21 882.96,2081.25 884.2,2147 886.9,2051.21 888.77,2130.55 890.8,2038.58 892.81,2082.9 894,2080 896.3,2050 898.2,2023.3 901,1998.7 904.8,1970.3 909.5,1975 915.2,1959 919,1962.8 922.8,1943.8 926.6,1907.9 928.5,1923 931.3,1869.1" fill="none" stroke="#0B7D7F" stroke-width="2.4" stroke-linejoin="round" stroke-linecap="round" />
</svg></body></html>
